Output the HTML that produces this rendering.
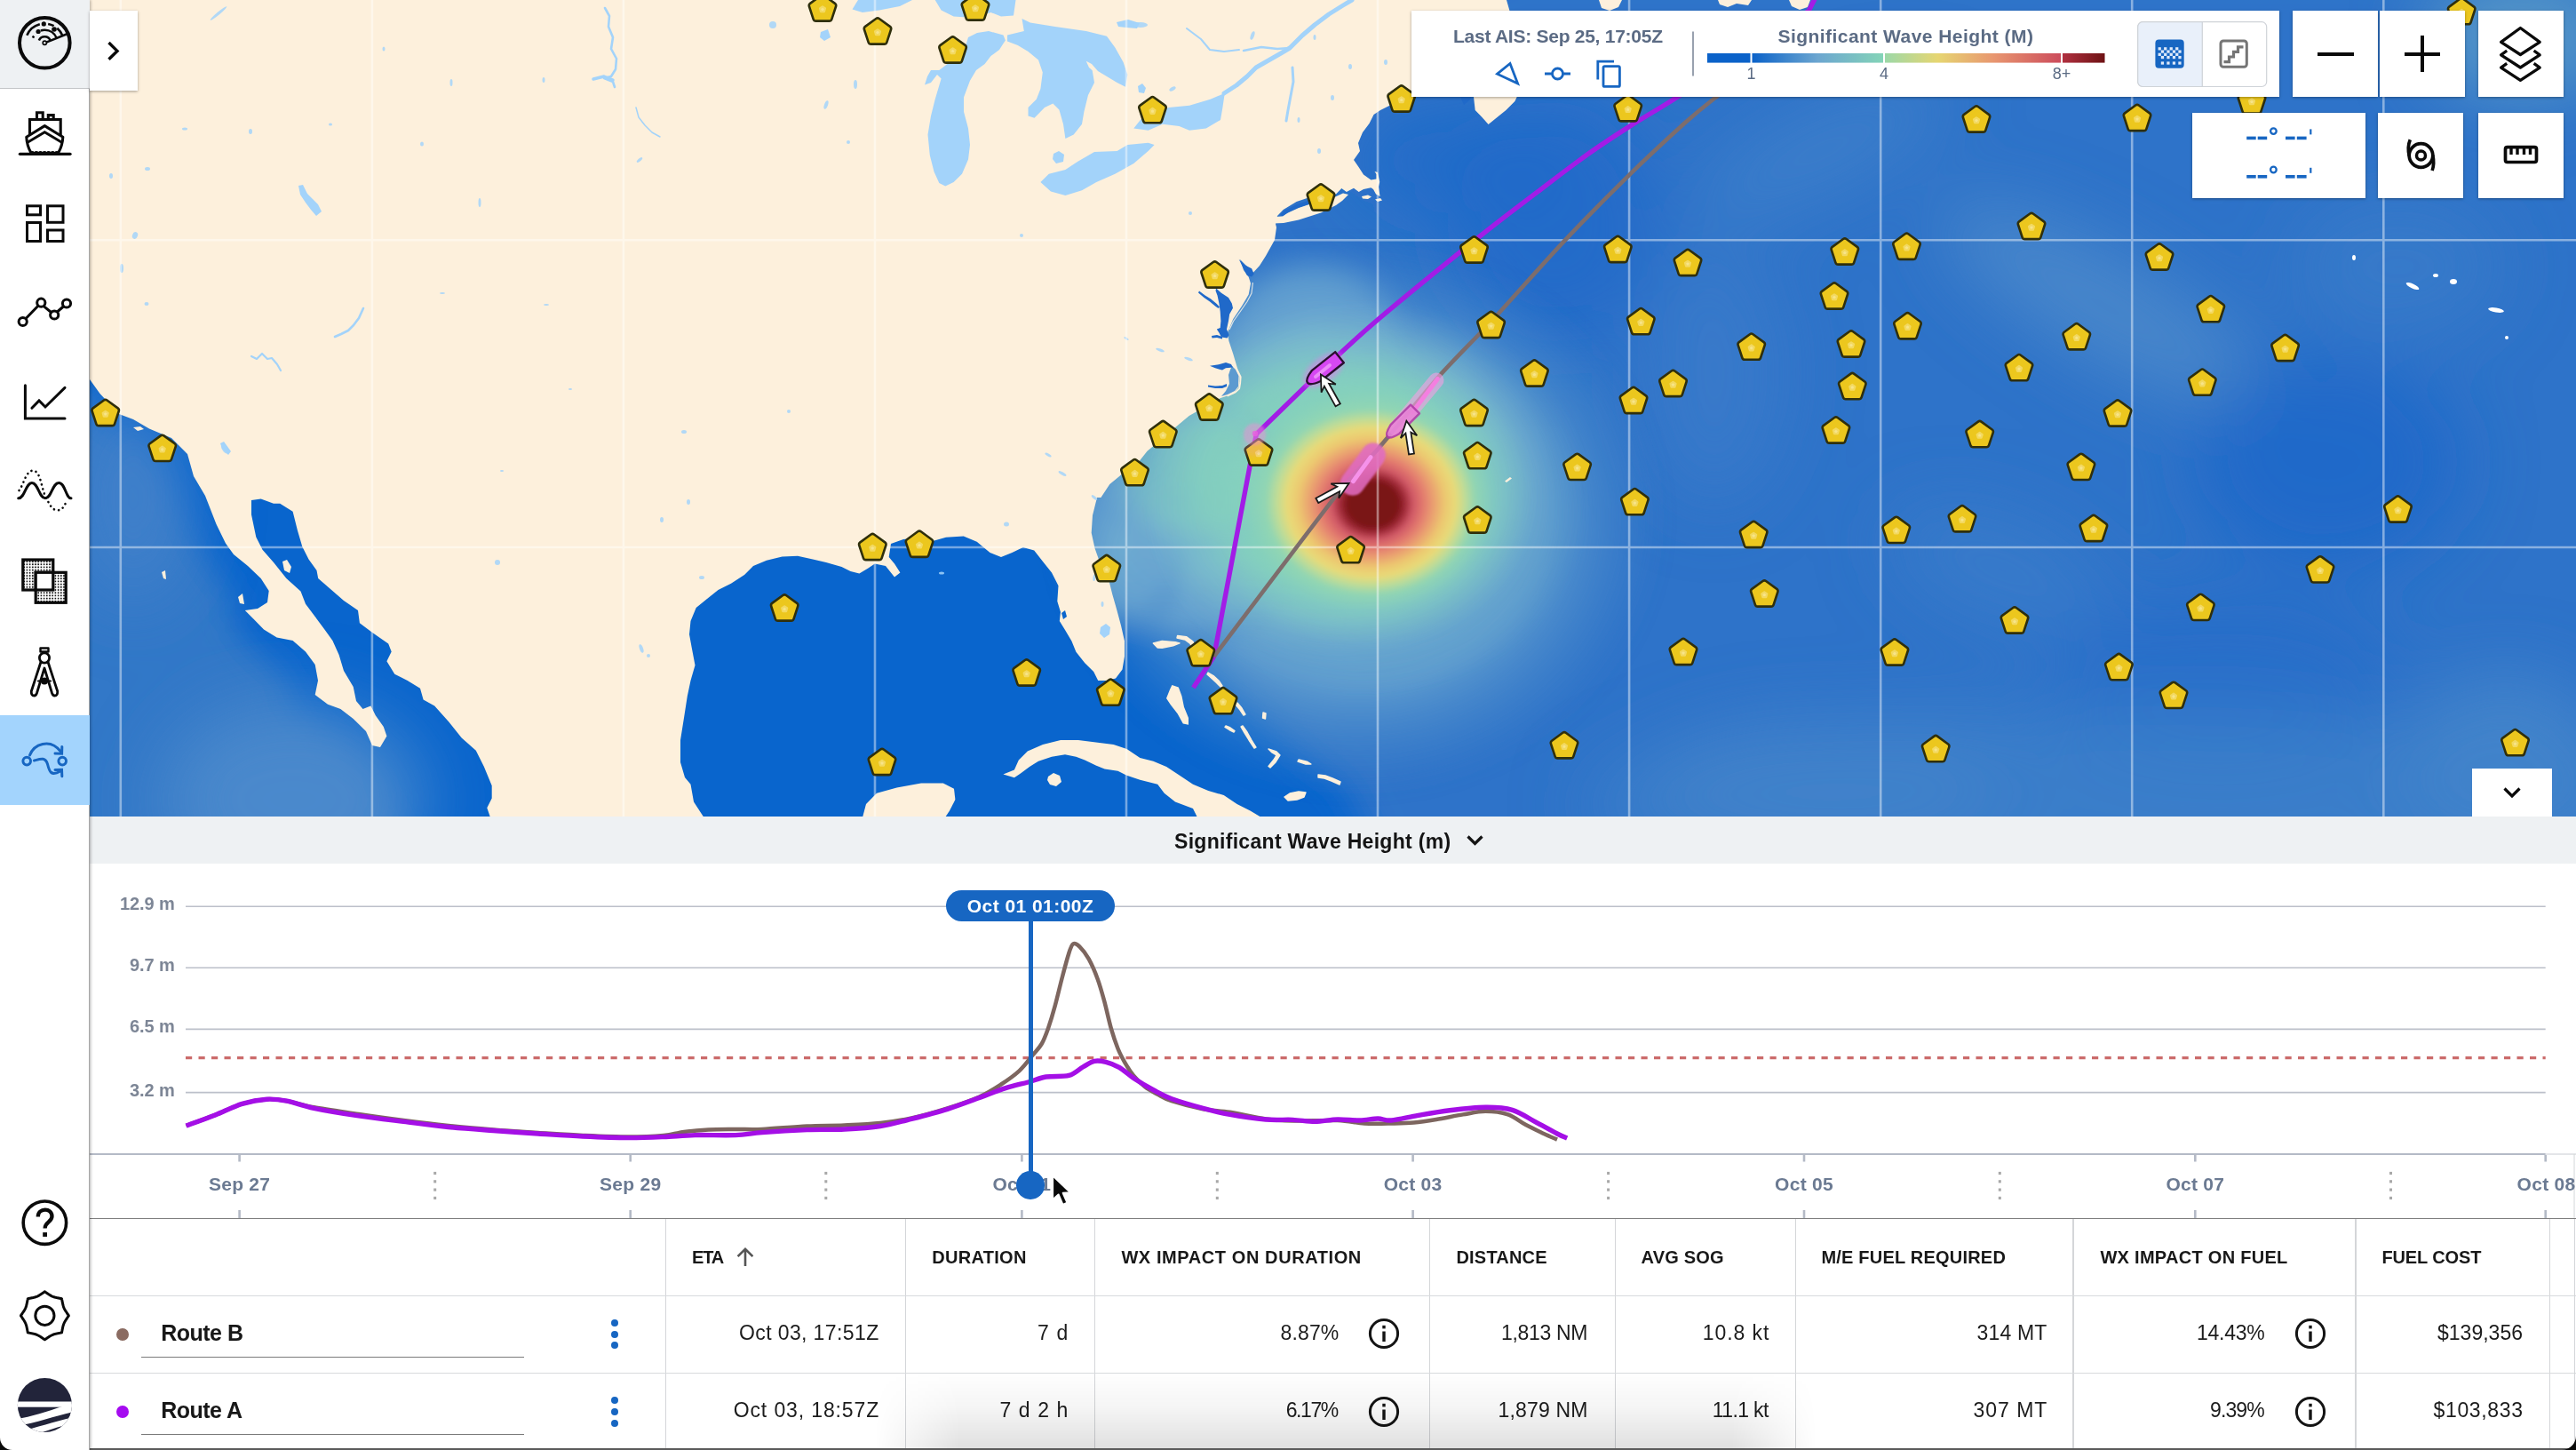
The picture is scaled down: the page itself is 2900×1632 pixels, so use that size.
<!DOCTYPE html>
<html><head><meta charset="utf-8"><title>Routing</title><style>
html,body{margin:0;padding:0}
body{width:2900px;height:1632px;position:relative;overflow:hidden;background:#fff;font-family:"Liberation Sans",sans-serif}
.t{position:absolute;line-height:1.15;white-space:nowrap}
#map{position:absolute;left:0;top:0;width:2900px;height:919px;overflow:hidden;background:#0965cd}
.card{position:absolute;background:#fff;box-shadow:0 1px 3px rgba(0,0,0,0.35)}
#side{position:absolute;left:0;top:0;width:100.4px;height:1632px;background:#fff;border-right:1.3px solid #a6a6a6;box-shadow:1px 0 3px rgba(0,0,0,0.3)}
#side .topcell{position:absolute;left:0;top:0;width:101px;height:98.5px;background:#eef1f3;border-bottom:1.3px solid #c4c6c8}
#side .active{position:absolute;left:0;top:805px;width:101px;height:100.8px;background:#a3d4fd}
#chart{position:absolute;left:0;top:919px;width:2900px;height:453px;background:#fff}
#chead{position:absolute;left:101px;top:0;width:2799px;height:53.2px;background:#eef1f3}
#table{position:absolute;left:0;top:1371.5px;width:2900px;height:261px;background:#fff}
</style></head><body>
<div id="map">
<svg id="mapsvg" width="2900" height="919" viewBox="0 0 2900 919" style="position:absolute;left:0;top:0">
<defs>
<filter id="b8" x="-20%" y="-20%" width="140%" height="140%"><feGaussianBlur stdDeviation="8"/></filter>
<filter id="b18" x="-20%" y="-20%" width="140%" height="140%"><feGaussianBlur stdDeviation="18"/></filter>
<filter id="b40" x="-30%" y="-30%" width="160%" height="160%"><feGaussianBlur stdDeviation="40"/></filter>
<filter id="b1" filterUnits="userSpaceOnUse" x="1100" y="200" width="900" height="700"><feGaussianBlur stdDeviation="1.1"/></filter>
<filter id="b3" filterUnits="userSpaceOnUse" x="1100" y="200" width="900" height="700"><feGaussianBlur stdDeviation="2.5"/></filter>
<radialGradient id="storm" cx="0.5" cy="0.5" r="0.5" fx="0.515" fy="0.517">
<stop offset="0" stop-color="#7a1214"/>
<stop offset="0.088" stop-color="#7a1214"/>
<stop offset="0.115" stop-color="#a02a38"/>
<stop offset="0.145" stop-color="#d05866"/>
<stop offset="0.18" stop-color="#e2786e"/>
<stop offset="0.22" stop-color="#eaa070"/>
<stop offset="0.262" stop-color="#ecc870"/>
<stop offset="0.30" stop-color="#e8da78"/>
<stop offset="0.335" stop-color="#c0dc96"/>
<stop offset="0.375" stop-color="#92d6b2" stop-opacity="0.95"/>
<stop offset="0.45" stop-color="#86d2bc" stop-opacity="0.55"/>
<stop offset="0.6" stop-color="#80c8c4" stop-opacity="0.15"/>
<stop offset="0.8" stop-color="#80c8c4" stop-opacity="0"/>
</radialGradient>
<radialGradient id="teal" cx="0.5" cy="0.5" r="0.5">
<stop offset="0" stop-color="#86d4ba"/>
<stop offset="0.55" stop-color="#84d0be" stop-opacity="0.95"/>
<stop offset="0.75" stop-color="#7cbccc" stop-opacity="0.7"/>
<stop offset="0.9" stop-color="#6ca6d0" stop-opacity="0.3"/>
<stop offset="1" stop-color="#5c98d0" stop-opacity="0"/>
</radialGradient>
<radialGradient id="halo" cx="0.5" cy="0.5" r="0.5">
<stop offset="0" stop-color="#74b0d0" stop-opacity="1"/>
<stop offset="0.6" stop-color="#68a4d0" stop-opacity="0.8"/>
<stop offset="0.85" stop-color="#4c8ccc" stop-opacity="0.35"/>
<stop offset="1" stop-color="#3a7cc9" stop-opacity="0"/>
</radialGradient>
</defs>
<rect width="2900" height="919" fill="#0965cd"/>
<g filter="url(#b18)">
<polygon points="1700.0,-40.0 2960.0,-40.0 2960.0,980.0 1560.0,980.0 1514.0,884.0 1470.0,852.0 1424.0,812.0 1380.0,767.0 1340.0,724.0 1300.0,702.0 1250.0,696.0 1200.0,600.0 1240.0,450.0 1350.0,300.0 1400.0,150.0 1520.0,60.0" fill="#2d73c9"/>
<polygon points="40.0,395.0 82.0,428.0 112.0,470.0 165.0,505.0 190.0,545.0 215.0,600.0 238.0,640.0 262.0,668.0 262.0,700.0 290.0,735.0 322.0,760.0 330.0,800.0 360.0,822.0 392.0,850.0 420.0,880.0 470.0,980.0 40.0,980.0" fill="#3178c8"/>
</g>
<g filter="url(#b40)">
<ellipse cx="330" cy="900" rx="150" ry="110" fill="#4e8bcc" opacity="0.9"/>
<ellipse cx="150" cy="560" rx="60" ry="120" fill="#4482cb" opacity="0.8"/>
<ellipse cx="2370" cy="345" rx="210" ry="60" fill="#4a88cb" opacity="0.9" transform="rotate(30 2370 345)"/>
<ellipse cx="2050" cy="170" rx="160" ry="50" fill="#3d7fca" opacity="0.8" transform="rotate(-25 2050 170)"/>
<ellipse cx="2050" cy="880" rx="200" ry="70" fill="#4887cb" opacity="0.8" transform="rotate(0 2050 880)"/>
<ellipse cx="2820" cy="860" rx="120" ry="100" fill="#4686cb" opacity="0.9" transform="rotate(0 2820 860)"/>
<ellipse cx="2840" cy="40" rx="110" ry="70" fill="#5a9ac8" opacity="0.9" transform="rotate(0 2840 40)"/>
<ellipse cx="2620" cy="520" rx="150" ry="120" fill="#1c68c9" opacity="0.9" transform="rotate(0 2620 520)"/>
<ellipse cx="2500" cy="760" rx="200" ry="90" fill="#246dc9" opacity="0.8" transform="rotate(0 2500 760)"/>
<ellipse cx="1750" cy="250" rx="120" ry="140" fill="#2169c9" opacity="0.8" transform="rotate(0 1750 250)"/>
<ellipse cx="2250" cy="640" rx="130" ry="60" fill="#3c7ecb" opacity="0.7" transform="rotate(20 2250 640)"/>
<ellipse cx="1930" cy="420" rx="80" ry="150" fill="#3a7cca" opacity="0.7" transform="rotate(0 1930 420)"/>
<ellipse cx="2400" cy="905" rx="620" ry="110" fill="#3f81cb" opacity="0.7" transform="rotate(0 2400 905)"/>
<ellipse cx="2700" cy="300" rx="120" ry="80" fill="#3d7fca" opacity="0.6" transform="rotate(0 2700 300)"/>
<ellipse cx="1640" cy="180" rx="120" ry="60" fill="#1f69c9" opacity="0.7" transform="rotate(0 1640 180)"/>
</g>
<g filter="url(#b8)">
<ellipse cx="1528" cy="583" rx="350" ry="315" fill="url(#halo)"/>
<ellipse cx="1330" cy="640" rx="130" ry="100" fill="url(#halo)" opacity="0.8"/>
<ellipse cx="1265" cy="610" rx="80" ry="115" fill="url(#halo)" opacity="0.85"/>
<ellipse cx="1480" cy="370" rx="120" ry="100" fill="url(#halo)" opacity="0.7"/>
<ellipse cx="1470" cy="395" rx="150" ry="120" fill="url(#halo)" opacity="0.55"/>
<ellipse cx="1500" cy="540" rx="258" ry="210" fill="url(#teal)"/>
<ellipse cx="1345" cy="535" rx="120" ry="95" fill="url(#teal)" opacity="0.4"/>
</g>
<g filter="url(#b3)">
<ellipse cx="1537" cy="559" rx="316" ry="279" fill="url(#storm)"/>
</g>
<path d="M101.0 0.0 L1696.0 0.0 L1700.0 14.0 L1650.0 60.0 L1600.0 105.0 L1564.0 119.0 L1554.0 124.0 L1546.5 129.0 L1541.5 139.0 L1534.0 149.0 L1529.0 161.0 L1531.0 170.0 L1524.0 180.0 L1529.7 188.3 L1535.0 196.6 L1543.4 202.5 L1549.5 201.5 L1549.5 196.0 L1547.5 193.0 L1551.0 194.0 L1553.2 204.8 L1552.0 210.3 L1553.5 221.0 L1549.0 218.6 L1546.0 213.0 L1543.4 211.2 L1535.0 213.0 L1529.7 215.9 L1524.0 211.7 L1515.9 215.9 L1510.3 212.0 L1504.0 218.5 L1474.5 222.0 L1459.6 227.0 L1444.7 236.0 L1438.0 243.0 L1436.0 252.0 L1437.0 256.0 L1435.0 270.0 L1425.0 288.0 L1418.0 299.0 L1410.7 307.0 L1403.0 299.0 L1396.0 292.0 L1400.0 304.0 L1405.7 311.7 L1408.0 319.0 L1405.7 331.6 L1398.3 344.0 L1388.3 359.0 L1382.0 374.0 L1383.4 383.7 L1388.3 398.6 L1392.0 411.0 L1395.8 423.4 L1394.5 435.8 L1388.3 443.3 L1373.4 448.3 L1356.0 458.2 L1338.7 468.0 L1323.8 480.5 L1306.4 495.4 L1291.5 507.8 L1281.6 520.3 L1264.2 532.7 L1249.3 545.0 L1239.4 560.0 L1235.0 560.0 L1230.0 580.0 L1228.7 599.7 L1232.5 617.0 L1238.7 634.5 L1248.6 654.3 L1252.3 669.0 L1257.3 686.6 L1262.0 704.0 L1266.0 721.4 L1266.0 738.7 L1263.5 753.6 L1256.0 763.6 L1246.0 766.0 L1236.2 766.0 L1231.2 756.0 L1221.3 746.2 L1211.4 733.8 L1206.4 721.4 L1199.0 709.0 L1192.8 699.0 L1194.0 689.0 L1190.3 676.7 L1191.5 659.3 L1184.0 644.4 L1174.0 632.0 L1164.2 619.6 L1151.8 615.9 L1139.4 622.0 L1127.0 627.0 L1114.5 622.0 L1099.7 609.7 L1084.8 603.4 L1065.0 604.7 L1050.0 609.0 L1037.0 604.7 L1017.0 607.0 L1003.0 612.0 L1000.7 627.0 L1007.0 634.5 L1013.4 644.4 L1007.0 649.4 L997.0 637.0 L984.8 634.5 L977.4 639.4 L967.4 645.6 L957.5 643.0 L947.5 638.0 L930.0 633.0 L915.0 629.5 L898.0 625.8 L880.5 626.5 L863.0 630.7 L848.0 637.0 L838.0 647.0 L823.0 656.8 L808.5 664.0 L796.0 674.0 L783.7 684.0 L777.5 699.0 L776.0 714.0 L778.7 728.8 L782.5 748.7 L777.5 766.0 L773.8 783.4 L770.0 808.0 L766.0 833.0 L766.0 858.0 L771.0 875.0 L777.5 882.7 L781.0 902.6 L792.4 920.0 L552.0 920.0 L548.3 909.3 L553.7 898.6 L553.7 884.2 L544.8 862.7 L535.8 844.8 L519.7 830.4 L505.3 812.5 L489.2 794.5 L476.6 787.4 L473.0 774.8 L458.7 765.9 L444.3 758.7 L435.4 744.3 L440.7 733.6 L437.2 724.6 L419.2 712.0 L404.9 701.3 L403.0 687.0 L387.0 676.0 L372.6 663.6 L358.2 651.0 L356.5 642.0 L347.5 629.6 L340.3 615.2 L335.0 597.3 L329.6 575.8 L315.2 566.8 L308.0 566.8 L293.7 561.4 L283.0 563.0 L283.0 579.3 L288.3 604.4 L295.5 618.8 L308.0 633.0 L322.4 651.0 L338.5 665.4 L344.0 679.8 L354.7 694.0 L365.4 708.5 L374.4 721.0 L381.6 737.0 L387.0 755.0 L397.7 773.0 L401.0 789.0 L408.5 798.0 L417.4 794.5 L422.8 805.3 L431.8 817.9 L435.4 828.6 L428.0 841.0 L419.0 839.0 L412.0 823.0 L397.7 809.0 L383.4 798.0 L369.0 792.8 L354.7 782.0 L358.0 766.0 L354.7 748.0 L344.0 733.6 L329.6 721.0 L311.6 717.4 L297.0 708.5 L286.5 697.7 L275.8 687.0 L290.0 685.0 L301.0 678.0 L302.7 665.0 L293.7 651.0 L279.0 637.0 L263.0 624.0 L254.0 611.6 L243.5 590.0 L231.0 558.0 L218.0 536.0 L211.0 511.0 L193.0 493.0 L168.0 482.5 L150.0 472.0 L134.0 466.0 L112.5 443.0 L101.0 427.0Z" fill="#fdf0dc"/>
<path d="M971.0 920.0 L975.0 905.0 L987.0 892.7 L1009.6 886.5 L1037.0 881.5 L1061.8 881.5 L1074.0 887.7 L1075.4 900.0 L1069.0 912.5 L1064.0 920.0Z" fill="#fdf0dc" stroke="#fdf0dc" stroke-width="0" stroke-linejoin="round"/>
<path d="M1129.4 871.6 L1141.9 866.6 L1146.8 855.4 L1156.8 845.5 L1174.0 838.0 L1194.0 833.0 L1213.9 833.0 L1233.7 835.6 L1253.6 838.0 L1268.5 843.0 L1283.4 853.0 L1298.3 856.7 L1313.2 862.9 L1328.0 872.8 L1343.0 882.7 L1360.3 890.0 L1377.7 895.0 L1392.6 905.0 L1407.5 912.5 L1420.0 920.0 L1348.0 920.0 L1343.0 910.0 L1323.0 902.6 L1310.7 892.7 L1303.2 882.7 L1283.4 877.8 L1268.5 872.8 L1258.5 867.8 L1243.6 865.4 L1233.7 861.6 L1221.3 855.4 L1211.4 851.7 L1199.0 849.2 L1184.0 851.7 L1169.0 856.7 L1159.0 862.9 L1149.3 870.3 L1141.9 875.3Z" fill="#fdf0dc" stroke="#fdf0dc" stroke-width="0" stroke-linejoin="round"/>
<path d="M1180.0 874.0 L1186.0 870.0 L1193.0 873.0 L1195.0 880.0 L1189.0 885.0 L1182.0 883.0 L1179.0 878.0Z" fill="#fdf0dc" stroke="#fdf0dc" stroke-width="0" stroke-linejoin="round"/>
<path d="M1319.4 771.0 L1326.8 773.5 L1330.5 783.4 L1333.0 795.8 L1338.0 808.0 L1338.0 815.7 L1331.8 814.5 L1325.6 803.3 L1318.0 793.4 L1313.0 786.0 L1317.0 776.0Z" fill="#fdf0dc" stroke="#fdf0dc" stroke-width="0" stroke-linejoin="round"/>
<path d="M1298.3 723.9 L1308.2 721.4 L1323.0 722.6 L1328.0 723.9 L1320.6 726.8 L1308.2 729.3 L1303.2 729.0Z" fill="#fdf0dc" stroke="#fdf0dc" stroke-width="1.4" stroke-linejoin="round"/>
<path d="M1325.6 715.4 L1335.5 716.6 L1343.0 722.0 L1346.0 730.0 L1343.0 731.0 L1340.0 724.5 L1334.0 720.0 L1325.0 718.0Z" fill="#fdf0dc" stroke="#fdf0dc" stroke-width="1.4" stroke-linejoin="round"/>
<path d="M1360.0 757.0 L1366.0 760.5 L1372.0 766.0 L1376.0 772.0 L1374.0 773.0 L1369.0 768.0 L1363.0 762.5 L1359.0 759.0Z" fill="#fdf0dc" stroke="#fdf0dc" stroke-width="1.4" stroke-linejoin="round"/>
<path d="M1393.0 791.0 L1398.0 797.0 L1402.0 804.0 L1400.0 805.0 L1396.0 799.0 L1391.0 793.0Z" fill="#fdf0dc" stroke="#fdf0dc" stroke-width="1.4" stroke-linejoin="round"/>
<path d="M1380.0 817.0 L1385.0 819.0 L1390.0 822.5 L1389.0 824.0 L1384.0 821.5 L1379.0 818.5Z" fill="#fdf0dc" stroke="#fdf0dc" stroke-width="1.4" stroke-linejoin="round"/>
<path d="M1399.0 817.0 L1404.0 824.0 L1409.0 833.0 L1414.0 841.0 L1412.0 842.0 L1406.0 833.0 L1401.0 825.0 L1397.0 818.0Z" fill="#fdf0dc" stroke="#fdf0dc" stroke-width="1.4" stroke-linejoin="round"/>
<path d="M1422.0 802.0 L1425.0 803.0 L1424.5 809.0 L1421.5 808.0Z" fill="#fdf0dc" stroke="#fdf0dc" stroke-width="1.4" stroke-linejoin="round"/>
<path d="M1428.0 843.0 L1437.0 846.0 L1441.0 850.0 L1436.0 858.0 L1430.0 864.0 L1428.0 862.5 L1434.0 855.0 L1437.0 850.0 L1432.0 847.0Z" fill="#fdf0dc" stroke="#fdf0dc" stroke-width="1.4" stroke-linejoin="round"/>
<path d="M1462.0 855.0 L1472.0 857.5 L1476.0 860.0 L1470.0 860.0 L1461.0 857.0Z" fill="#fdf0dc" stroke="#fdf0dc" stroke-width="1.4" stroke-linejoin="round"/>
<path d="M1484.0 872.0 L1492.0 873.0 L1500.0 876.0 L1509.0 880.0 L1508.0 883.0 L1499.0 879.0 L1491.0 876.0 L1484.0 875.0Z" fill="#fdf0dc" stroke="#fdf0dc" stroke-width="1.4" stroke-linejoin="round"/>
<path d="M1446.0 897.0 L1452.0 893.0 L1462.0 891.0 L1470.0 892.0 L1468.0 897.0 L1460.0 900.0 L1450.0 901.0Z" fill="#fdf0dc" stroke="#fdf0dc" stroke-width="1.4" stroke-linejoin="round"/>
<path d="M1658.0 100.0 L1660.7 124.0 L1668.0 131.6 L1675.6 140.0 L1683.0 134.0 L1695.4 124.0 L1705.4 114.0 L1712.0 100.0Z" fill="#fdf0dc" stroke="#fdf0dc" stroke-width="0" stroke-linejoin="round"/>
<path d="M1433.0 251.5 L1436.0 244.0 L1443.0 243.5 L1450.0 239.5 L1462.0 234.0 L1480.0 228.0 L1500.0 223.0 L1512.0 217.5 L1518.0 219.0 L1511.0 226.0 L1504.0 231.0 L1487.0 239.5 L1462.0 247.5 L1445.0 251.0Z" fill="#fdf0dc" stroke="#fdf0dc" stroke-width="0" stroke-linejoin="round"/>
<path d="M1533.0 221.0 L1540.0 219.5 L1544.0 221.5 L1540.0 224.0 L1534.0 223.5Z" fill="#fdf0dc" stroke="#fdf0dc" stroke-width="0" stroke-linejoin="round"/>
<path d="M1548.0 224.5 L1554.0 223.0 L1556.0 225.5 L1551.0 227.0Z" fill="#fdf0dc" stroke="#fdf0dc" stroke-width="0" stroke-linejoin="round"/>
<path d="M1800.0 0.0 L1826.0 0.0 L1822.0 8.0 L1812.0 12.0 L1803.0 9.0Z" fill="#fdf0dc" stroke="#fdf0dc" stroke-width="0" stroke-linejoin="round"/>
<path d="M1934.0 0.0 L1972.0 0.0 L1968.0 6.0 L1955.0 4.0 L1945.0 8.0 L1936.0 5.0Z" fill="#fdf0dc" stroke="#fdf0dc" stroke-width="0" stroke-linejoin="round"/>
<path d="M2014.0 0.0 L2038.0 0.0 L2035.0 8.0 L2026.0 11.0 L2017.0 7.0Z" fill="#fdf0dc" stroke="#fdf0dc" stroke-width="0" stroke-linejoin="round"/>
<path d="M150.0 481.0 L158.0 480.0 L162.0 483.0 L155.0 485.0Z" fill="#fdf0dc" stroke="#fdf0dc" stroke-width="0" stroke-linejoin="round"/>
<path d="M182.0 644.0 L186.0 642.0 L187.0 652.0 L184.0 651.0Z" fill="#fdf0dc" stroke="#fdf0dc" stroke-width="0" stroke-linejoin="round"/>
<path d="M268.0 672.0 L273.0 668.0 L275.0 680.0 L270.0 679.0Z" fill="#fdf0dc" stroke="#fdf0dc" stroke-width="0" stroke-linejoin="round"/>
<path d="M318.0 632.0 L323.0 630.0 L328.0 638.0 L326.0 645.0 L320.0 642.0Z" fill="#fdf0dc" stroke="#fdf0dc" stroke-width="0" stroke-linejoin="round"/>
<path d="M1694.0 541.5 L1700.0 537.0 L1702.0 538.5 L1696.0 543.0Z" fill="#fdf0dc" stroke="#fdf0dc" stroke-width="0" stroke-linejoin="round"/>
<path d="M959.5 10.5 L966.0 0.0 L1027.0 0.0 L1013.0 7.0 L989.8 11.6 L971.0 14.0Z" fill="#a3d3fa"/>
<path d="M1052.7 0.0 L1059.6 11.6 L1073.6 18.6 L1095.0 20.0 L1115.5 14.0 L1127.0 18.6 L1141.0 17.5 L1143.5 0.0Z" fill="#a3d3fa"/>
<path d="M1113.0 35.0 L1129.5 39.6 L1131.9 45.4 L1129.5 49.0 L1125.0 56.0 L1115.5 63.0 L1108.6 72.0 L1099.0 79.0 L1092.0 90.8 L1085.0 109.5 L1085.0 125.8 L1090.0 144.4 L1092.0 163.0 L1090.0 179.4 L1083.0 195.7 L1073.6 205.0 L1064.3 209.6 L1057.3 206.0 L1051.5 193.3 L1046.8 174.7 L1044.5 151.4 L1048.0 130.4 L1052.7 111.8 L1059.6 88.5 L1055.0 83.9 L1048.0 93.0 L1041.0 95.5 L1044.0 86.0 L1048.0 79.0 L1057.3 79.0 L1066.6 72.0 L1083.0 65.0 L1090.0 42.0 L1100.0 37.0Z" fill="#a3d3fa"/>
<path d="M1134.0 39.6 L1152.8 35.0 L1150.5 21.0 L1159.8 25.6 L1187.8 30.0 L1222.7 35.0 L1246.0 40.8 L1255.3 53.6 L1264.6 70.0 L1269.3 83.9 L1267.0 97.8 L1257.6 93.0 L1246.0 86.0 L1236.0 80.0 L1229.0 72.0 L1222.7 68.7 L1226.0 76.0 L1229.7 79.2 L1232.0 93.0 L1225.0 107.0 L1220.4 125.8 L1218.0 139.8 L1208.7 151.4 L1199.4 156.0 L1197.0 139.8 L1192.4 123.5 L1185.4 116.5 L1176.0 121.0 L1164.5 132.8 L1157.5 130.4 L1157.5 121.0 L1166.8 111.8 L1171.4 100.0 L1173.8 81.5 L1169.0 67.5 L1157.5 58.0 L1145.8 51.0 L1134.0 46.6Z" fill="#a3d3fa"/>
<path d="M1171.4 205.0 L1180.8 195.7 L1199.4 191.0 L1213.4 181.7 L1232.0 171.0 L1257.6 170.0 L1269.3 163.0 L1292.6 160.7 L1299.6 163.0 L1292.6 170.0 L1276.3 184.0 L1255.3 195.7 L1234.3 205.0 L1218.0 214.3 L1199.4 220.0 L1183.0 215.5Z" fill="#a3d3fa"/>
<path d="M1186.0 173.0 L1192.0 170.0 L1198.0 174.0 L1197.0 182.0 L1189.0 184.0 L1185.0 179.0Z" fill="#a3d3fa"/>
<path d="M1276.3 144.4 L1285.6 132.8 L1300.0 126.0 L1315.9 121.0 L1339.0 118.8 L1362.5 111.8 L1378.8 104.8 L1376.4 121.0 L1374.0 135.0 L1357.8 144.4 L1339.0 146.7 L1327.5 142.0 L1308.9 139.8 L1292.6 146.7Z" fill="#a3d3fa"/>
<path d="M1281.0 97.0 L1286.0 94.0 L1290.0 99.0 L1288.0 105.0 L1282.0 104.0Z" fill="#a3d3fa"/>
<path d="M1257.0 25.0 L1270.0 22.0 L1283.0 26.0 L1280.0 32.0 L1268.0 31.0 L1259.0 30.0Z" fill="#a3d3fa"/>
<path d="M1239.0 706.0 L1245.0 702.0 L1250.0 706.0 L1249.0 714.0 L1243.0 718.0 L1238.0 713.0Z" fill="#a3d3fa"/>
<path d="M248.0 499.0 L252.0 497.0 L260.0 508.0 L257.0 512.0 L250.0 505.0Z" fill="#a3d3fa"/>
<path d="M336.0 209.0 L341.0 208.0 L346.0 218.0 L352.0 224.0 L358.0 230.0 L362.0 238.0 L356.0 243.0 L350.0 236.0 L344.0 228.0 L338.0 219.0Z" fill="#a3d3fa"/>
<path d="M924.0 36.0 L932.0 33.0 L935.0 42.0 L928.0 46.0 L923.0 42.0Z" fill="#a3d3fa"/>
<path d="M1369.1 324.6 L1375.0 329.8 L1383.0 335.0 L1386.8 341.6 L1388.0 346.8 L1384.2 353.4 L1383.0 361.3 L1381.0 370.4 L1383.6 377.0 L1381.6 380.5 L1375.0 379.6 L1372.4 374.4 L1369.8 370.4 L1373.7 369.0 L1374.4 361.3 L1373.7 350.8 L1372.4 341.6 L1370.5 332.4 L1368.5 327.2Z" fill="#2069c9"/>
<path d="M1350.0 327.5 L1356.7 332.5 L1363.2 336.6 L1369.8 342.0 L1373.0 345.5 L1371.5 347.0 L1368.0 344.5 L1362.0 339.5 L1355.5 335.0 L1349.0 329.5Z" fill="#2069c9"/>
<path d="M1364.0 378.0 L1370.0 377.0 L1376.0 379.0 L1376.0 381.5 L1370.0 380.0 L1364.5 380.5Z" fill="#2069c9"/>
<path d="M1387.0 412.0 L1391.0 416.0 L1394.5 423.0 L1394.0 435.0 L1390.0 440.0 L1382.0 444.0 L1375.0 446.0 L1380.0 440.0 L1384.0 432.0 L1383.0 422.0 L1385.0 416.0Z" fill="#5c9ad0"/>
<path d="M1362.0 411.8 L1372.0 410.3 L1380.0 408.0 L1386.0 410.0 L1388.0 413.5 L1380.0 414.2 L1376.0 416.5 L1368.0 414.3Z" fill="#2069c9"/>
<path d="M1360.0 433.5 L1368.0 434.5 L1376.0 434.0 L1381.0 432.0 L1381.0 435.0 L1376.0 437.0 L1368.0 437.0 L1360.0 435.5Z" fill="#2069c9"/>
<path d="M1394.7 291.8 L1401.3 298.3 L1409.1 302.3 L1411.7 308.2 L1409.1 311.5 L1403.9 310.1 L1400.0 302.3 L1396.7 295.7Z" fill="#2069c9"/>
<path d="M1441.0 242.0 L1446.0 237.0 L1460.0 230.0 L1476.0 225.0 L1500.0 221.0 L1510.0 216.0 L1504.0 219.5 L1480.0 227.5 L1462.0 233.5 L1450.0 239.0 L1444.0 243.5Z" fill="#2069c9"/>
<path d="M1195.0 690.0 L1199.0 687.0 L1201.0 694.0 L1197.0 697.0Z" fill="#0965cd"/>
<path d="M1640.0 100.0 L1660.0 100.0 L1655.0 112.0 L1648.0 118.0Z" fill="#2069c9"/>
<path d="M1389.5 411 L1393.4 417.6 L1396.7 424.2 L1396.2 431 L1395.2 437.3 L1390.8 441.4 L1381.6 445.8" fill="none" stroke="#fdf0dc" stroke-width="1.8" stroke-linejoin="round"/>
<path d="M1410.4 318 L1409 330 L1404 339.5 L1396 351 L1388.5 361.5 L1384 371" fill="none" stroke="#fff8ea" stroke-width="1.2" stroke-linejoin="round" opacity="0.8"/>
<path d="M681.0 9.0 L686.0 18.0 L685.0 30.0 L690.0 42.0 L688.0 55.0 L694.0 66.0 L693.0 78.0 L688.0 86.0 L680.0 88.0 L690.0 92.0 L692.0 98.0" fill="none" stroke="#a3d3fa" stroke-width="2.6" stroke-linecap="round" stroke-linejoin="round"/>
<path d="M668.0 89.0 L680.0 86.0 L690.0 90.0" fill="none" stroke="#a3d3fa" stroke-width="3.5" stroke-linecap="round" stroke-linejoin="round"/>
<path d="M409.0 347.0 L404.0 358.0 L398.0 366.0 L392.0 372.0 L384.0 376.0 L377.0 379.0" fill="none" stroke="#a3d3fa" stroke-width="2.6" stroke-linecap="round" stroke-linejoin="round"/>
<path d="M283.0 401.0 L289.0 404.0 L295.0 398.0 L301.0 404.0 L306.0 403.0 L312.0 410.0 L316.0 417.0" fill="none" stroke="#a3d3fa" stroke-width="2.2" stroke-linecap="round" stroke-linejoin="round"/>
<path d="M716.0 121.0 L719.0 132.0 L726.0 141.0 L734.0 149.0 L743.0 154.0" fill="none" stroke="#a3d3fa" stroke-width="1.5" stroke-linecap="round" stroke-linejoin="round"/>
<path d="M1378.0 105.0 L1392.0 96.0 L1404.0 86.0 L1414.0 76.0 L1428.0 68.0 L1442.0 60.0 L1452.0 54.0 L1466.0 40.0 L1480.0 28.0 L1496.0 16.0 L1512.0 6.0 L1522.0 0.0" fill="none" stroke="#a3d3fa" stroke-width="5" stroke-linecap="round" stroke-linejoin="round"/>
<path d="M1455.0 76.0 L1456.0 92.0 L1453.0 108.0 L1450.0 124.0 L1448.0 136.0" fill="none" stroke="#a3d3fa" stroke-width="3" stroke-linecap="round" stroke-linejoin="round"/>
<path d="M1400.0 57.0 L1420.0 53.0 L1438.0 55.0 L1452.0 54.0" fill="none" stroke="#a3d3fa" stroke-width="2.5" stroke-linecap="round" stroke-linejoin="round"/>
<path d="M1336.0 32.0 L1352.0 44.0 L1362.0 56.0 L1378.0 58.0 L1395.0 56.0" fill="none" stroke="#a3d3fa" stroke-width="2" stroke-linecap="round" stroke-linejoin="round"/>
<ellipse cx="246" cy="15" rx="12" ry="1.6" fill="#a3d3fa" opacity="0.85" transform="rotate(-40 246 15)"/>
<ellipse cx="166" cy="190" rx="3" ry="2" fill="#a3d3fa" opacity="0.85" transform="rotate(0 166 190)"/>
<ellipse cx="125" cy="198" rx="2" ry="3" fill="#a3d3fa" opacity="0.85" transform="rotate(0 125 198)"/>
<ellipse cx="152" cy="265" rx="3" ry="4" fill="#a3d3fa" opacity="0.85" transform="rotate(20 152 265)"/>
<ellipse cx="137" cy="302" rx="2" ry="5" fill="#a3d3fa" opacity="0.85" transform="rotate(0 137 302)"/>
<ellipse cx="165" cy="342" rx="2.5" ry="2" fill="#a3d3fa" opacity="0.85" transform="rotate(0 165 342)"/>
<ellipse cx="253" cy="505" rx="3" ry="6" fill="#a3d3fa" opacity="0.85" transform="rotate(-30 253 505)"/>
<ellipse cx="720" cy="180" rx="4" ry="1.5" fill="#a3d3fa" opacity="0.85" transform="rotate(-40 720 180)"/>
<ellipse cx="508" cy="93" rx="1.5" ry="4" fill="#a3d3fa" opacity="0.85" transform="rotate(0 508 93)"/>
<ellipse cx="540" cy="228" rx="1.5" ry="5" fill="#a3d3fa" opacity="0.85" transform="rotate(0 540 228)"/>
<ellipse cx="1060" cy="645" rx="3" ry="1.5" fill="#a3d3fa" opacity="0.85" transform="rotate(0 1060 645)"/>
<ellipse cx="722" cy="730" rx="2" ry="5" fill="#a3d3fa" opacity="0.85" transform="rotate(-20 722 730)"/>
<ellipse cx="730" cy="738" rx="2" ry="2" fill="#a3d3fa" opacity="0.85" transform="rotate(0 730 738)"/>
<ellipse cx="1133" cy="590" rx="3" ry="2.5" fill="#a3d3fa" opacity="0.85" transform="rotate(0 1133 590)"/>
<ellipse cx="1241" cy="680" rx="1.5" ry="3" fill="#a3d3fa" opacity="0.85" transform="rotate(0 1241 680)"/>
<ellipse cx="1232" cy="650" rx="1.5" ry="4" fill="#a3d3fa" opacity="0.85" transform="rotate(10 1232 650)"/>
<ellipse cx="963" cy="95" rx="2" ry="5" fill="#a3d3fa" opacity="0.85" transform="rotate(0 963 95)"/>
<ellipse cx="930" cy="118" rx="2" ry="5" fill="#a3d3fa" opacity="0.85" transform="rotate(20 930 118)"/>
<ellipse cx="870" cy="28" rx="4" ry="4" fill="#a3d3fa" opacity="0.85" transform="rotate(0 870 28)"/>
<ellipse cx="1284" cy="28" rx="8" ry="3" fill="#a3d3fa" opacity="0.85" transform="rotate(0 1284 28)"/>
<ellipse cx="1320" cy="100" rx="4" ry="2" fill="#a3d3fa" opacity="0.85" transform="rotate(-30 1320 100)"/>
<ellipse cx="1410" cy="40" rx="2" ry="5" fill="#a3d3fa" opacity="0.85" transform="rotate(20 1410 40)"/>
<ellipse cx="1480" cy="42" rx="1.5" ry="3" fill="#a3d3fa" opacity="0.85" transform="rotate(0 1480 42)"/>
<ellipse cx="1338" cy="404" rx="5" ry="1.5" fill="#a3d3fa" opacity="0.85" transform="rotate(20 1338 404)"/>
<ellipse cx="1306" cy="394" rx="5" ry="1.5" fill="#a3d3fa" opacity="0.85" transform="rotate(20 1306 394)"/>
<ellipse cx="1196" cy="533" rx="5" ry="1.6" fill="#a3d3fa" opacity="0.85" transform="rotate(30 1196 533)"/>
<ellipse cx="1232" cy="560" rx="4" ry="1.5" fill="#a3d3fa" opacity="0.85" transform="rotate(40 1232 560)"/>
<ellipse cx="1180" cy="512" rx="4" ry="1.5" fill="#a3d3fa" opacity="0.85" transform="rotate(30 1180 512)"/>
<ellipse cx="1268" cy="381" rx="3" ry="1.2" fill="#a3d3fa" opacity="0.85" transform="rotate(30 1268 381)"/>
<ellipse cx="282" cy="148" rx="2" ry="3" fill="#a3d3fa" opacity="0.85" transform="rotate(0 282 148)"/>
<ellipse cx="208" cy="145" rx="3" ry="1.5" fill="#a3d3fa" opacity="0.85" transform="rotate(0 208 145)"/>
<ellipse cx="475" cy="162" rx="2" ry="2.5" fill="#a3d3fa" opacity="0.85" transform="rotate(0 475 162)"/>
<ellipse cx="372" cy="140" rx="2" ry="1.5" fill="#a3d3fa" opacity="0.85" transform="rotate(0 372 140)"/>
<ellipse cx="612" cy="90" rx="1.5" ry="3" fill="#a3d3fa" opacity="0.85" transform="rotate(0 612 90)"/>
<ellipse cx="432" cy="55" rx="1.5" ry="2.5" fill="#a3d3fa" opacity="0.85" transform="rotate(0 432 55)"/>
<ellipse cx="565" cy="530" rx="2" ry="1" fill="#a3d3fa" opacity="0.85" transform="rotate(0 565 530)"/>
<ellipse cx="498" cy="330" rx="3" ry="1" fill="#a3d3fa" opacity="0.85" transform="rotate(0 498 330)"/>
<ellipse cx="615" cy="343" rx="3" ry="1" fill="#a3d3fa" opacity="0.85" transform="rotate(0 615 343)"/>
<ellipse cx="642" cy="438" rx="2" ry="1" fill="#a3d3fa" opacity="0.85" transform="rotate(0 642 438)"/>
<ellipse cx="770" cy="486" rx="3" ry="2" fill="#a3d3fa" opacity="0.85" transform="rotate(0 770 486)"/>
<ellipse cx="775" cy="565" rx="2" ry="3" fill="#a3d3fa" opacity="0.85" transform="rotate(0 775 565)"/>
<ellipse cx="790" cy="650" rx="3" ry="2" fill="#a3d3fa" opacity="0.85" transform="rotate(0 790 650)"/>
<ellipse cx="560" cy="633" rx="3" ry="3" fill="#a3d3fa" opacity="0.85" transform="rotate(0 560 633)"/>
<ellipse cx="745" cy="585" rx="2" ry="3" fill="#a3d3fa" opacity="0.85" transform="rotate(0 745 585)"/>
<ellipse cx="888" cy="463" rx="2" ry="2" fill="#a3d3fa" opacity="0.85" transform="rotate(0 888 463)"/>
<ellipse cx="1000" cy="30" rx="2" ry="2" fill="#a3d3fa" opacity="0.85" transform="rotate(0 1000 30)"/>
<ellipse cx="955" cy="160" rx="2" ry="2" fill="#a3d3fa" opacity="0.85" transform="rotate(0 955 160)"/>
<ellipse cx="1150" cy="265" rx="2" ry="2" fill="#a3d3fa" opacity="0.85" transform="rotate(0 1150 265)"/>
<ellipse cx="1340" cy="240" rx="2" ry="2" fill="#a3d3fa" opacity="0.85" transform="rotate(0 1340 240)"/>
<ellipse cx="1500" cy="110" rx="2" ry="3" fill="#a3d3fa" opacity="0.85" transform="rotate(0 1500 110)"/>
<ellipse cx="1520" cy="75" rx="2" ry="3" fill="#a3d3fa" opacity="0.85" transform="rotate(0 1520 75)"/>
<ellipse cx="1560" cy="70" rx="2" ry="3" fill="#a3d3fa" opacity="0.85" transform="rotate(0 1560 70)"/>
<ellipse cx="1485" cy="170" rx="2" ry="3" fill="#a3d3fa" opacity="0.85" transform="rotate(0 1485 170)"/>
<ellipse cx="1462" cy="135" rx="1.5" ry="3" fill="#a3d3fa" opacity="0.85" transform="rotate(0 1462 135)"/>
<ellipse cx="2650" cy="290" rx="2" ry="3" fill="#ffffff" transform="rotate(0 2650 290)"/>
<ellipse cx="2716" cy="322" rx="8" ry="2.5" fill="#ffffff" transform="rotate(25 2716 322)"/>
<ellipse cx="2742" cy="310" rx="3" ry="2" fill="#ffffff" transform="rotate(0 2742 310)"/>
<ellipse cx="2762" cy="317" rx="4" ry="3" fill="#ffffff" transform="rotate(0 2762 317)"/>
<ellipse cx="2810" cy="349" rx="9" ry="2.5" fill="#ffffff" transform="rotate(10 2810 349)"/>
<ellipse cx="2822" cy="380" rx="2" ry="2" fill="#ffffff" transform="rotate(0 2822 380)"/>
<path d="M135.8 0V919 M418.9 0V919 M701.9 0V919 M985.0 0V919 M1268.0 0V919 M1551.0 0V919 M1834.1 0V919 M2117.2 0V919 M2400.2 0V919 M2683.3 0V919 M101 270.3H2900 M101 616H2900" stroke="#ffffff" stroke-opacity="0.44" stroke-width="2.6" fill="none"/>
<path d="M1343.4 774.0 L1366.6 739.0 L1407.0 524.8 L1414.4 488.6" fill="none" stroke="#a21ce6" stroke-width="5.4" stroke-linejoin="round"/>
<path d="M1414.4 488.6 C1427.4 476.0 1467.7 436.5 1491.0 414.5 C1514.3 392.5 1522.2 384.4 1551.7 359.3 C1581.2 334.2 1634.3 291.3 1664.8 266.9 C1695.3 242.5 1710.4 231.6 1731.0 215.9 C1751.6 200.2 1768.4 187.2 1786.2 174.5 C1804.0 161.8 1819.0 152.2 1835.9 141.4 C1852.8 130.6 1864.4 124.5 1885.5 111.0 C1906.6 97.5 1934.4 78.7 1960.0 62.0 C1985.6 45.3 2023.1 20.9 2036.0 12.5 L2044.5 -4" fill="none" stroke="#a21ce6" stroke-width="5.4" stroke-linejoin="round"/>
<path d="M1366.6 739.0 C1382.9 717.5 1480.5 587.7 1502.7 559.6 C1524.9 531.5 1537.8 520.9 1552.0 504.5 C1566.2 488.1 1605.5 439.9 1620.7 422.8 C1635.9 405.7 1662.1 379.9 1678.6 362.0 C1695.1 344.1 1739.9 293.6 1758.6 273.8 C1777.3 254.0 1817.9 212.8 1834.5 196.6 C1851.1 180.4 1885.2 148.9 1896.6 138.6 C1908.0 128.3 1920.3 118.3 1929.7 111.0 C1939.1 103.7 1969.6 82.0 1975.0 78.0" fill="none" stroke="#7d6d6c" stroke-width="4.7" stroke-linejoin="round"/>
<g filter="url(#b1)">
<path d="M1522.6 544 L1546.2 512.2" stroke="#e06cc0" stroke-opacity="0.88" stroke-width="27.5" stroke-linecap="round" fill="none"/>
</g>
<path d="M1572 482 L1617 428" stroke="#f2a0e2" stroke-opacity="0.62" stroke-width="17" stroke-linecap="round" fill="none"/>
<path d="M1523.5 541.6 L1543 514.6" stroke="#f692ea" stroke-width="5" stroke-linecap="round" fill="none"/>
<path d="M1590 464 L1618.5 426.5" stroke="#f47fe0" stroke-width="5" stroke-linecap="round" fill="none"/>
<ellipse cx="1490" cy="416.5" rx="27" ry="14" transform="rotate(-38 1490 416.5)" fill="#e878f0" opacity="0.5" filter="url(#b3)"/>
<path d="M-23.0 -7.75 L10.35 -7.75 Q23.0 -4.6499999999999995 23.0 0 Q23.0 4.6499999999999995 10.35 7.75 L-23.0 7.75 Z" transform="translate(1490 416.5) rotate(141.6084643383168)" fill="#d648f2" stroke="#2a1030" stroke-width="2.4" stroke-linejoin="round" opacity="1"/>
<path d="M1481 424 L1497 411" stroke="#ea8cf8" stroke-width="4" stroke-linecap="round"/>
<path d="M-22.0 -7.0 L9.9 -7.0 Q22.0 -4.2 22.0 0 Q22.0 4.2 9.9 7.0 L-22.0 7.0 Z" transform="translate(1577.5 476) rotate(134.9056083563788)" fill="#e884d8" stroke="#b03ca8" stroke-width="2.4" stroke-linejoin="round" opacity="0.9"/>
<path d="M0 -3.0 L26.03150642209323 -3.0 L21.53150642209323 -9.3 L39.53150642209323 0 L21.53150642209323 9.3 L26.03150642209323 3.0 L0 3.0 Z" transform="translate(1506.2 455.9) rotate(-119.2)" fill="#ffffff" stroke="#1a1a1a" stroke-width="1.8" stroke-linejoin="miter"/>
<path d="M0 -3.0 L24.119144062564715 -3.0 L19.619144062564715 -9.3 L37.619144062564715 0 L19.619144062564715 9.3 L24.119144062564715 3.0 L0 3.0 Z" transform="translate(1589 511) rotate(-98.6)" fill="#ffffff" stroke="#1a1a1a" stroke-width="1.8" stroke-linejoin="miter"/>
<path d="M0 -3.0 L27.218546143004616 -3.0 L22.718546143004616 -9.3 L40.718546143004616 0 L22.718546143004616 9.3 L27.218546143004616 3.0 L0 3.0 Z" transform="translate(1482.8 563.4) rotate(-28.5)" fill="#ffffff" stroke="#1a1a1a" stroke-width="1.8" stroke-linejoin="miter"/>
<polygon points="926.0,-2.6 938.2,6.3 933.5,20.6 918.5,20.6 913.8,6.3" fill="#2f2f0c" stroke="#2f2f0c" stroke-width="8.6" stroke-linejoin="round"/><polygon points="926.0,-2.6 938.2,6.3 933.5,20.6 918.5,20.6 913.8,6.3" fill="#ecc71e" stroke="#ecc71e" stroke-width="3.4" stroke-linejoin="round"/><polygon points="926.0,7.3 929.0,9.5 927.9,13.1 924.1,13.1 923.0,9.5" fill="#f7e48a" stroke="#f3d960" stroke-width="2.2" stroke-linejoin="round"/>
<polygon points="988.0,23.4 1000.2,32.3 995.5,46.6 980.5,46.6 975.8,32.3" fill="#2f2f0c" stroke="#2f2f0c" stroke-width="8.6" stroke-linejoin="round"/><polygon points="988.0,23.4 1000.2,32.3 995.5,46.6 980.5,46.6 975.8,32.3" fill="#ecc71e" stroke="#ecc71e" stroke-width="3.4" stroke-linejoin="round"/><polygon points="988.0,33.3 991.0,35.5 989.9,39.1 986.1,39.1 985.0,35.5" fill="#f7e48a" stroke="#f3d960" stroke-width="2.2" stroke-linejoin="round"/>
<polygon points="1098.0,-3.6 1110.2,5.3 1105.5,19.6 1090.5,19.6 1085.8,5.3" fill="#2f2f0c" stroke="#2f2f0c" stroke-width="8.6" stroke-linejoin="round"/><polygon points="1098.0,-3.6 1110.2,5.3 1105.5,19.6 1090.5,19.6 1085.8,5.3" fill="#ecc71e" stroke="#ecc71e" stroke-width="3.4" stroke-linejoin="round"/><polygon points="1098.0,6.3 1101.0,8.5 1099.9,12.1 1096.1,12.1 1095.0,8.5" fill="#f7e48a" stroke="#f3d960" stroke-width="2.2" stroke-linejoin="round"/>
<polygon points="1072.6,44.4 1084.8,53.3 1080.1,67.6 1065.1,67.6 1060.4,53.3" fill="#2f2f0c" stroke="#2f2f0c" stroke-width="8.6" stroke-linejoin="round"/><polygon points="1072.6,44.4 1084.8,53.3 1080.1,67.6 1065.1,67.6 1060.4,53.3" fill="#ecc71e" stroke="#ecc71e" stroke-width="3.4" stroke-linejoin="round"/><polygon points="1072.6,54.3 1075.6,56.5 1074.5,60.1 1070.7,60.1 1069.6,56.5" fill="#f7e48a" stroke="#f3d960" stroke-width="2.2" stroke-linejoin="round"/>
<polygon points="1297.5,112.1 1309.7,121.0 1305.0,135.3 1290.0,135.3 1285.3,121.0" fill="#2f2f0c" stroke="#2f2f0c" stroke-width="8.6" stroke-linejoin="round"/><polygon points="1297.5,112.1 1309.7,121.0 1305.0,135.3 1290.0,135.3 1285.3,121.0" fill="#ecc71e" stroke="#ecc71e" stroke-width="3.4" stroke-linejoin="round"/><polygon points="1297.5,122.0 1300.5,124.2 1299.4,127.8 1295.6,127.8 1294.5,124.2" fill="#f7e48a" stroke="#f3d960" stroke-width="2.2" stroke-linejoin="round"/>
<polygon points="1577.7,99.4 1589.9,108.3 1585.2,122.6 1570.2,122.6 1565.5,108.3" fill="#2f2f0c" stroke="#2f2f0c" stroke-width="8.6" stroke-linejoin="round"/><polygon points="1577.7,99.4 1589.9,108.3 1585.2,122.6 1570.2,122.6 1565.5,108.3" fill="#ecc71e" stroke="#ecc71e" stroke-width="3.4" stroke-linejoin="round"/><polygon points="1577.7,109.3 1580.7,111.5 1579.6,115.1 1575.8,115.1 1574.7,111.5" fill="#f7e48a" stroke="#f3d960" stroke-width="2.2" stroke-linejoin="round"/>
<polygon points="1832.7,110.2 1844.9,119.1 1840.2,133.4 1825.2,133.4 1820.5,119.1" fill="#2f2f0c" stroke="#2f2f0c" stroke-width="8.6" stroke-linejoin="round"/><polygon points="1832.7,110.2 1844.9,119.1 1840.2,133.4 1825.2,133.4 1820.5,119.1" fill="#ecc71e" stroke="#ecc71e" stroke-width="3.4" stroke-linejoin="round"/><polygon points="1832.7,120.1 1835.7,122.3 1834.6,125.9 1830.8,125.9 1829.7,122.3" fill="#f7e48a" stroke="#f3d960" stroke-width="2.2" stroke-linejoin="round"/>
<polygon points="2225.0,122.4 2237.2,131.3 2232.5,145.6 2217.5,145.6 2212.8,131.3" fill="#2f2f0c" stroke="#2f2f0c" stroke-width="8.6" stroke-linejoin="round"/><polygon points="2225.0,122.4 2237.2,131.3 2232.5,145.6 2217.5,145.6 2212.8,131.3" fill="#ecc71e" stroke="#ecc71e" stroke-width="3.4" stroke-linejoin="round"/><polygon points="2225.0,132.3 2228.0,134.5 2226.9,138.1 2223.1,138.1 2222.0,134.5" fill="#f7e48a" stroke="#f3d960" stroke-width="2.2" stroke-linejoin="round"/>
<polygon points="2406.0,120.9 2418.2,129.8 2413.5,144.1 2398.5,144.1 2393.8,129.8" fill="#2f2f0c" stroke="#2f2f0c" stroke-width="8.6" stroke-linejoin="round"/><polygon points="2406.0,120.9 2418.2,129.8 2413.5,144.1 2398.5,144.1 2393.8,129.8" fill="#ecc71e" stroke="#ecc71e" stroke-width="3.4" stroke-linejoin="round"/><polygon points="2406.0,130.8 2409.0,133.0 2407.9,136.6 2404.1,136.6 2403.0,133.0" fill="#f7e48a" stroke="#f3d960" stroke-width="2.2" stroke-linejoin="round"/>
<polygon points="2535.0,101.4 2547.2,110.3 2542.5,124.6 2527.5,124.6 2522.8,110.3" fill="#2f2f0c" stroke="#2f2f0c" stroke-width="8.6" stroke-linejoin="round"/><polygon points="2535.0,101.4 2547.2,110.3 2542.5,124.6 2527.5,124.6 2522.8,110.3" fill="#ecc71e" stroke="#ecc71e" stroke-width="3.4" stroke-linejoin="round"/><polygon points="2535.0,111.3 2538.0,113.5 2536.9,117.1 2533.1,117.1 2532.0,113.5" fill="#f7e48a" stroke="#f3d960" stroke-width="2.2" stroke-linejoin="round"/>
<polygon points="2771.2,1.1 2783.4,10.0 2778.7,24.3 2763.7,24.3 2759.0,10.0" fill="#2f2f0c" stroke="#2f2f0c" stroke-width="8.6" stroke-linejoin="round"/><polygon points="2771.2,1.1 2783.4,10.0 2778.7,24.3 2763.7,24.3 2759.0,10.0" fill="#ecc71e" stroke="#ecc71e" stroke-width="3.4" stroke-linejoin="round"/><polygon points="2771.2,11.0 2774.2,13.2 2773.1,16.8 2769.3,16.8 2768.2,13.2" fill="#f7e48a" stroke="#f3d960" stroke-width="2.2" stroke-linejoin="round"/>
<polygon points="1487.0,210.4 1499.2,219.3 1494.5,233.6 1479.5,233.6 1474.8,219.3" fill="#2f2f0c" stroke="#2f2f0c" stroke-width="8.6" stroke-linejoin="round"/><polygon points="1487.0,210.4 1499.2,219.3 1494.5,233.6 1479.5,233.6 1474.8,219.3" fill="#ecc71e" stroke="#ecc71e" stroke-width="3.4" stroke-linejoin="round"/><polygon points="1487.0,220.3 1490.0,222.5 1488.9,226.1 1485.1,226.1 1484.0,222.5" fill="#f7e48a" stroke="#f3d960" stroke-width="2.2" stroke-linejoin="round"/>
<polygon points="1367.6,297.4 1379.8,306.3 1375.1,320.6 1360.1,320.6 1355.4,306.3" fill="#2f2f0c" stroke="#2f2f0c" stroke-width="8.6" stroke-linejoin="round"/><polygon points="1367.6,297.4 1379.8,306.3 1375.1,320.6 1360.1,320.6 1355.4,306.3" fill="#ecc71e" stroke="#ecc71e" stroke-width="3.4" stroke-linejoin="round"/><polygon points="1367.6,307.3 1370.6,309.5 1369.5,313.1 1365.7,313.1 1364.6,309.5" fill="#f7e48a" stroke="#f3d960" stroke-width="2.2" stroke-linejoin="round"/>
<polygon points="1659.5,269.4 1671.7,278.3 1667.0,292.6 1652.0,292.6 1647.3,278.3" fill="#2f2f0c" stroke="#2f2f0c" stroke-width="8.6" stroke-linejoin="round"/><polygon points="1659.5,269.4 1671.7,278.3 1667.0,292.6 1652.0,292.6 1647.3,278.3" fill="#ecc71e" stroke="#ecc71e" stroke-width="3.4" stroke-linejoin="round"/><polygon points="1659.5,279.3 1662.5,281.5 1661.4,285.1 1657.6,285.1 1656.5,281.5" fill="#f7e48a" stroke="#f3d960" stroke-width="2.2" stroke-linejoin="round"/>
<polygon points="1821.3,268.9 1833.5,277.8 1828.8,292.1 1813.8,292.1 1809.1,277.8" fill="#2f2f0c" stroke="#2f2f0c" stroke-width="8.6" stroke-linejoin="round"/><polygon points="1821.3,268.9 1833.5,277.8 1828.8,292.1 1813.8,292.1 1809.1,277.8" fill="#ecc71e" stroke="#ecc71e" stroke-width="3.4" stroke-linejoin="round"/><polygon points="1821.3,278.8 1824.3,281.0 1823.2,284.6 1819.4,284.6 1818.3,281.0" fill="#f7e48a" stroke="#f3d960" stroke-width="2.2" stroke-linejoin="round"/>
<polygon points="1900.0,283.9 1912.2,292.8 1907.5,307.1 1892.5,307.1 1887.8,292.8" fill="#2f2f0c" stroke="#2f2f0c" stroke-width="8.6" stroke-linejoin="round"/><polygon points="1900.0,283.9 1912.2,292.8 1907.5,307.1 1892.5,307.1 1887.8,292.8" fill="#ecc71e" stroke="#ecc71e" stroke-width="3.4" stroke-linejoin="round"/><polygon points="1900.0,293.8 1903.0,296.0 1901.9,299.6 1898.1,299.6 1897.0,296.0" fill="#f7e48a" stroke="#f3d960" stroke-width="2.2" stroke-linejoin="round"/>
<polygon points="2076.8,271.4 2089.0,280.3 2084.3,294.6 2069.3,294.6 2064.6,280.3" fill="#2f2f0c" stroke="#2f2f0c" stroke-width="8.6" stroke-linejoin="round"/><polygon points="2076.8,271.4 2089.0,280.3 2084.3,294.6 2069.3,294.6 2064.6,280.3" fill="#ecc71e" stroke="#ecc71e" stroke-width="3.4" stroke-linejoin="round"/><polygon points="2076.8,281.3 2079.8,283.5 2078.7,287.1 2074.9,287.1 2073.8,283.5" fill="#f7e48a" stroke="#f3d960" stroke-width="2.2" stroke-linejoin="round"/>
<polygon points="2146.5,265.7 2158.7,274.6 2154.0,288.9 2139.0,288.9 2134.3,274.6" fill="#2f2f0c" stroke="#2f2f0c" stroke-width="8.6" stroke-linejoin="round"/><polygon points="2146.5,265.7 2158.7,274.6 2154.0,288.9 2139.0,288.9 2134.3,274.6" fill="#ecc71e" stroke="#ecc71e" stroke-width="3.4" stroke-linejoin="round"/><polygon points="2146.5,275.6 2149.5,277.8 2148.4,281.4 2144.6,281.4 2143.5,277.8" fill="#f7e48a" stroke="#f3d960" stroke-width="2.2" stroke-linejoin="round"/>
<polygon points="2287.0,242.9 2299.2,251.8 2294.5,266.1 2279.5,266.1 2274.8,251.8" fill="#2f2f0c" stroke="#2f2f0c" stroke-width="8.6" stroke-linejoin="round"/><polygon points="2287.0,242.9 2299.2,251.8 2294.5,266.1 2279.5,266.1 2274.8,251.8" fill="#ecc71e" stroke="#ecc71e" stroke-width="3.4" stroke-linejoin="round"/><polygon points="2287.0,252.8 2290.0,255.0 2288.9,258.6 2285.1,258.6 2284.0,255.0" fill="#f7e48a" stroke="#f3d960" stroke-width="2.2" stroke-linejoin="round"/>
<polygon points="2431.0,277.4 2443.2,286.3 2438.5,300.6 2423.5,300.6 2418.8,286.3" fill="#2f2f0c" stroke="#2f2f0c" stroke-width="8.6" stroke-linejoin="round"/><polygon points="2431.0,277.4 2443.2,286.3 2438.5,300.6 2423.5,300.6 2418.8,286.3" fill="#ecc71e" stroke="#ecc71e" stroke-width="3.4" stroke-linejoin="round"/><polygon points="2431.0,287.3 2434.0,289.5 2432.9,293.1 2429.1,293.1 2428.0,289.5" fill="#f7e48a" stroke="#f3d960" stroke-width="2.2" stroke-linejoin="round"/>
<polygon points="1678.6,353.9 1690.8,362.8 1686.1,377.1 1671.1,377.1 1666.4,362.8" fill="#2f2f0c" stroke="#2f2f0c" stroke-width="8.6" stroke-linejoin="round"/><polygon points="1678.6,353.9 1690.8,362.8 1686.1,377.1 1671.1,377.1 1666.4,362.8" fill="#ecc71e" stroke="#ecc71e" stroke-width="3.4" stroke-linejoin="round"/><polygon points="1678.6,363.8 1681.6,366.0 1680.5,369.6 1676.7,369.6 1675.6,366.0" fill="#f7e48a" stroke="#f3d960" stroke-width="2.2" stroke-linejoin="round"/>
<polygon points="1847.3,350.1 1859.5,359.0 1854.8,373.3 1839.8,373.3 1835.1,359.0" fill="#2f2f0c" stroke="#2f2f0c" stroke-width="8.6" stroke-linejoin="round"/><polygon points="1847.3,350.1 1859.5,359.0 1854.8,373.3 1839.8,373.3 1835.1,359.0" fill="#ecc71e" stroke="#ecc71e" stroke-width="3.4" stroke-linejoin="round"/><polygon points="1847.3,360.0 1850.3,362.2 1849.2,365.8 1845.4,365.8 1844.3,362.2" fill="#f7e48a" stroke="#f3d960" stroke-width="2.2" stroke-linejoin="round"/>
<polygon points="1727.4,408.4 1739.6,417.3 1734.9,431.6 1719.9,431.6 1715.2,417.3" fill="#2f2f0c" stroke="#2f2f0c" stroke-width="8.6" stroke-linejoin="round"/><polygon points="1727.4,408.4 1739.6,417.3 1734.9,431.6 1719.9,431.6 1715.2,417.3" fill="#ecc71e" stroke="#ecc71e" stroke-width="3.4" stroke-linejoin="round"/><polygon points="1727.4,418.3 1730.4,420.5 1729.3,424.1 1725.5,424.1 1724.4,420.5" fill="#f7e48a" stroke="#f3d960" stroke-width="2.2" stroke-linejoin="round"/>
<polygon points="1883.5,419.9 1895.7,428.8 1891.0,443.1 1876.0,443.1 1871.3,428.8" fill="#2f2f0c" stroke="#2f2f0c" stroke-width="8.6" stroke-linejoin="round"/><polygon points="1883.5,419.9 1895.7,428.8 1891.0,443.1 1876.0,443.1 1871.3,428.8" fill="#ecc71e" stroke="#ecc71e" stroke-width="3.4" stroke-linejoin="round"/><polygon points="1883.5,429.8 1886.5,432.0 1885.4,435.6 1881.6,435.6 1880.5,432.0" fill="#f7e48a" stroke="#f3d960" stroke-width="2.2" stroke-linejoin="round"/>
<polygon points="1361.3,446.4 1373.5,455.3 1368.8,469.6 1353.8,469.6 1349.1,455.3" fill="#2f2f0c" stroke="#2f2f0c" stroke-width="8.6" stroke-linejoin="round"/><polygon points="1361.3,446.4 1373.5,455.3 1368.8,469.6 1353.8,469.6 1349.1,455.3" fill="#ecc71e" stroke="#ecc71e" stroke-width="3.4" stroke-linejoin="round"/><polygon points="1361.3,456.3 1364.3,458.5 1363.2,462.1 1359.4,462.1 1358.3,458.5" fill="#f7e48a" stroke="#f3d960" stroke-width="2.2" stroke-linejoin="round"/>
<polygon points="1309.3,477.0 1321.5,485.9 1316.8,500.2 1301.8,500.2 1297.1,485.9" fill="#2f2f0c" stroke="#2f2f0c" stroke-width="8.6" stroke-linejoin="round"/><polygon points="1309.3,477.0 1321.5,485.9 1316.8,500.2 1301.8,500.2 1297.1,485.9" fill="#ecc71e" stroke="#ecc71e" stroke-width="3.4" stroke-linejoin="round"/><polygon points="1309.3,486.9 1312.3,489.1 1311.2,492.7 1307.4,492.7 1306.3,489.1" fill="#f7e48a" stroke="#f3d960" stroke-width="2.2" stroke-linejoin="round"/>
<polygon points="1277.5,520.1 1289.7,529.0 1285.0,543.3 1270.0,543.3 1265.3,529.0" fill="#2f2f0c" stroke="#2f2f0c" stroke-width="8.6" stroke-linejoin="round"/><polygon points="1277.5,520.1 1289.7,529.0 1285.0,543.3 1270.0,543.3 1265.3,529.0" fill="#ecc71e" stroke="#ecc71e" stroke-width="3.4" stroke-linejoin="round"/><polygon points="1277.5,530.0 1280.5,532.2 1279.4,535.8 1275.6,535.8 1274.5,532.2" fill="#f7e48a" stroke="#f3d960" stroke-width="2.2" stroke-linejoin="round"/>
<polygon points="1417.0,497.4 1429.2,506.3 1424.5,520.6 1409.5,520.6 1404.8,506.3" fill="#2f2f0c" stroke="#2f2f0c" stroke-width="8.6" stroke-linejoin="round"/><polygon points="1417.0,497.4 1429.2,506.3 1424.5,520.6 1409.5,520.6 1404.8,506.3" fill="#ecc71e" stroke="#ecc71e" stroke-width="3.4" stroke-linejoin="round"/><polygon points="1417.0,507.3 1420.0,509.5 1418.9,513.1 1415.1,513.1 1414.0,509.5" fill="#f7e48a" stroke="#f3d960" stroke-width="2.2" stroke-linejoin="round"/>
<polygon points="1659.5,452.9 1671.7,461.8 1667.0,476.1 1652.0,476.1 1647.3,461.8" fill="#2f2f0c" stroke="#2f2f0c" stroke-width="8.6" stroke-linejoin="round"/><polygon points="1659.5,452.9 1671.7,461.8 1667.0,476.1 1652.0,476.1 1647.3,461.8" fill="#ecc71e" stroke="#ecc71e" stroke-width="3.4" stroke-linejoin="round"/><polygon points="1659.5,462.8 1662.5,465.0 1661.4,468.6 1657.6,468.6 1656.5,465.0" fill="#f7e48a" stroke="#f3d960" stroke-width="2.2" stroke-linejoin="round"/>
<polygon points="1663.3,501.1 1675.5,510.0 1670.8,524.3 1655.8,524.3 1651.1,510.0" fill="#2f2f0c" stroke="#2f2f0c" stroke-width="8.6" stroke-linejoin="round"/><polygon points="1663.3,501.1 1675.5,510.0 1670.8,524.3 1655.8,524.3 1651.1,510.0" fill="#ecc71e" stroke="#ecc71e" stroke-width="3.4" stroke-linejoin="round"/><polygon points="1663.3,511.0 1666.3,513.2 1665.2,516.8 1661.4,516.8 1660.3,513.2" fill="#f7e48a" stroke="#f3d960" stroke-width="2.2" stroke-linejoin="round"/>
<polygon points="1839.0,438.9 1851.2,447.8 1846.5,462.1 1831.5,462.1 1826.8,447.8" fill="#2f2f0c" stroke="#2f2f0c" stroke-width="8.6" stroke-linejoin="round"/><polygon points="1839.0,438.9 1851.2,447.8 1846.5,462.1 1831.5,462.1 1826.8,447.8" fill="#ecc71e" stroke="#ecc71e" stroke-width="3.4" stroke-linejoin="round"/><polygon points="1839.0,448.8 1842.0,451.0 1840.9,454.6 1837.1,454.6 1836.0,451.0" fill="#f7e48a" stroke="#f3d960" stroke-width="2.2" stroke-linejoin="round"/>
<polygon points="1775.6,513.8 1787.8,522.7 1783.1,537.0 1768.1,537.0 1763.4,522.7" fill="#2f2f0c" stroke="#2f2f0c" stroke-width="8.6" stroke-linejoin="round"/><polygon points="1775.6,513.8 1787.8,522.7 1783.1,537.0 1768.1,537.0 1763.4,522.7" fill="#ecc71e" stroke="#ecc71e" stroke-width="3.4" stroke-linejoin="round"/><polygon points="1775.6,523.7 1778.6,525.9 1777.5,529.5 1773.7,529.5 1772.6,525.9" fill="#f7e48a" stroke="#f3d960" stroke-width="2.2" stroke-linejoin="round"/>
<polygon points="1840.4,553.1 1852.6,562.0 1847.9,576.3 1832.9,576.3 1828.2,562.0" fill="#2f2f0c" stroke="#2f2f0c" stroke-width="8.6" stroke-linejoin="round"/><polygon points="1840.4,553.1 1852.6,562.0 1847.9,576.3 1832.9,576.3 1828.2,562.0" fill="#ecc71e" stroke="#ecc71e" stroke-width="3.4" stroke-linejoin="round"/><polygon points="1840.4,563.0 1843.4,565.2 1842.3,568.8 1838.5,568.8 1837.4,565.2" fill="#f7e48a" stroke="#f3d960" stroke-width="2.2" stroke-linejoin="round"/>
<polygon points="1663.3,573.4 1675.5,582.3 1670.8,596.6 1655.8,596.6 1651.1,582.3" fill="#2f2f0c" stroke="#2f2f0c" stroke-width="8.6" stroke-linejoin="round"/><polygon points="1663.3,573.4 1675.5,582.3 1670.8,596.6 1655.8,596.6 1651.1,582.3" fill="#ecc71e" stroke="#ecc71e" stroke-width="3.4" stroke-linejoin="round"/><polygon points="1663.3,583.3 1666.3,585.5 1665.2,589.1 1661.4,589.1 1660.3,585.5" fill="#f7e48a" stroke="#f3d960" stroke-width="2.2" stroke-linejoin="round"/>
<polygon points="1520.6,607.1 1532.8,616.0 1528.1,630.3 1513.1,630.3 1508.4,616.0" fill="#2f2f0c" stroke="#2f2f0c" stroke-width="8.6" stroke-linejoin="round"/><polygon points="1520.6,607.1 1532.8,616.0 1528.1,630.3 1513.1,630.3 1508.4,616.0" fill="#ecc71e" stroke="#ecc71e" stroke-width="3.4" stroke-linejoin="round"/><polygon points="1520.6,617.0 1523.6,619.2 1522.5,622.8 1518.7,622.8 1517.6,619.2" fill="#f7e48a" stroke="#f3d960" stroke-width="2.2" stroke-linejoin="round"/>
<polygon points="982.3,603.9 994.5,612.8 989.8,627.1 974.8,627.1 970.1,612.8" fill="#2f2f0c" stroke="#2f2f0c" stroke-width="8.6" stroke-linejoin="round"/><polygon points="982.3,603.9 994.5,612.8 989.8,627.1 974.8,627.1 970.1,612.8" fill="#ecc71e" stroke="#ecc71e" stroke-width="3.4" stroke-linejoin="round"/><polygon points="982.3,613.8 985.3,616.0 984.2,619.6 980.4,619.6 979.3,616.0" fill="#f7e48a" stroke="#f3d960" stroke-width="2.2" stroke-linejoin="round"/>
<polygon points="1035.0,600.7 1047.2,609.6 1042.5,623.9 1027.5,623.9 1022.8,609.6" fill="#2f2f0c" stroke="#2f2f0c" stroke-width="8.6" stroke-linejoin="round"/><polygon points="1035.0,600.7 1047.2,609.6 1042.5,623.9 1027.5,623.9 1022.8,609.6" fill="#ecc71e" stroke="#ecc71e" stroke-width="3.4" stroke-linejoin="round"/><polygon points="1035.0,610.6 1038.0,612.8 1036.9,616.4 1033.1,616.4 1032.0,612.8" fill="#f7e48a" stroke="#f3d960" stroke-width="2.2" stroke-linejoin="round"/>
<polygon points="1245.8,628.0 1258.0,636.9 1253.3,651.2 1238.3,651.2 1233.6,636.9" fill="#2f2f0c" stroke="#2f2f0c" stroke-width="8.6" stroke-linejoin="round"/><polygon points="1245.8,628.0 1258.0,636.9 1253.3,651.2 1238.3,651.2 1233.6,636.9" fill="#ecc71e" stroke="#ecc71e" stroke-width="3.4" stroke-linejoin="round"/><polygon points="1245.8,637.9 1248.8,640.1 1247.7,643.7 1243.9,643.7 1242.8,640.1" fill="#f7e48a" stroke="#f3d960" stroke-width="2.2" stroke-linejoin="round"/>
<polygon points="1351.8,723.2 1364.0,732.1 1359.3,746.4 1344.3,746.4 1339.6,732.1" fill="#2f2f0c" stroke="#2f2f0c" stroke-width="8.6" stroke-linejoin="round"/><polygon points="1351.8,723.2 1364.0,732.1 1359.3,746.4 1344.3,746.4 1339.6,732.1" fill="#ecc71e" stroke="#ecc71e" stroke-width="3.4" stroke-linejoin="round"/><polygon points="1351.8,733.1 1354.8,735.3 1353.7,738.9 1349.9,738.9 1348.8,735.3" fill="#f7e48a" stroke="#f3d960" stroke-width="2.2" stroke-linejoin="round"/>
<polygon points="1155.7,745.4 1167.9,754.3 1163.2,768.6 1148.2,768.6 1143.5,754.3" fill="#2f2f0c" stroke="#2f2f0c" stroke-width="8.6" stroke-linejoin="round"/><polygon points="1155.7,745.4 1167.9,754.3 1163.2,768.6 1148.2,768.6 1143.5,754.3" fill="#ecc71e" stroke="#ecc71e" stroke-width="3.4" stroke-linejoin="round"/><polygon points="1155.7,755.3 1158.7,757.5 1157.6,761.1 1153.8,761.1 1152.7,757.5" fill="#f7e48a" stroke="#f3d960" stroke-width="2.2" stroke-linejoin="round"/>
<polygon points="1250.3,767.6 1262.5,776.5 1257.8,790.8 1242.8,790.8 1238.1,776.5" fill="#2f2f0c" stroke="#2f2f0c" stroke-width="8.6" stroke-linejoin="round"/><polygon points="1250.3,767.6 1262.5,776.5 1257.8,790.8 1242.8,790.8 1238.1,776.5" fill="#ecc71e" stroke="#ecc71e" stroke-width="3.4" stroke-linejoin="round"/><polygon points="1250.3,777.5 1253.3,779.7 1252.2,783.3 1248.4,783.3 1247.3,779.7" fill="#f7e48a" stroke="#f3d960" stroke-width="2.2" stroke-linejoin="round"/>
<polygon points="1377.0,777.1 1389.2,786.0 1384.5,800.3 1369.5,800.3 1364.8,786.0" fill="#2f2f0c" stroke="#2f2f0c" stroke-width="8.6" stroke-linejoin="round"/><polygon points="1377.0,777.1 1389.2,786.0 1384.5,800.3 1369.5,800.3 1364.8,786.0" fill="#ecc71e" stroke="#ecc71e" stroke-width="3.4" stroke-linejoin="round"/><polygon points="1377.0,787.0 1380.0,789.2 1378.9,792.8 1375.1,792.8 1374.0,789.2" fill="#f7e48a" stroke="#f3d960" stroke-width="2.2" stroke-linejoin="round"/>
<polygon points="993.0,845.9 1005.2,854.8 1000.5,869.1 985.5,869.1 980.8,854.8" fill="#2f2f0c" stroke="#2f2f0c" stroke-width="8.6" stroke-linejoin="round"/><polygon points="993.0,845.9 1005.2,854.8 1000.5,869.1 985.5,869.1 980.8,854.8" fill="#ecc71e" stroke="#ecc71e" stroke-width="3.4" stroke-linejoin="round"/><polygon points="993.0,855.8 996.0,858.0 994.9,861.6 991.1,861.6 990.0,858.0" fill="#f7e48a" stroke="#f3d960" stroke-width="2.2" stroke-linejoin="round"/>
<polygon points="1761.0,827.2 1773.2,836.1 1768.5,850.4 1753.5,850.4 1748.8,836.1" fill="#2f2f0c" stroke="#2f2f0c" stroke-width="8.6" stroke-linejoin="round"/><polygon points="1761.0,827.2 1773.2,836.1 1768.5,850.4 1753.5,850.4 1748.8,836.1" fill="#ecc71e" stroke="#ecc71e" stroke-width="3.4" stroke-linejoin="round"/><polygon points="1761.0,837.1 1764.0,839.3 1762.9,842.9 1759.1,842.9 1758.0,839.3" fill="#f7e48a" stroke="#f3d960" stroke-width="2.2" stroke-linejoin="round"/>
<polygon points="1895.0,721.9 1907.2,730.8 1902.5,745.1 1887.5,745.1 1882.8,730.8" fill="#2f2f0c" stroke="#2f2f0c" stroke-width="8.6" stroke-linejoin="round"/><polygon points="1895.0,721.9 1907.2,730.8 1902.5,745.1 1887.5,745.1 1882.8,730.8" fill="#ecc71e" stroke="#ecc71e" stroke-width="3.4" stroke-linejoin="round"/><polygon points="1895.0,731.8 1898.0,734.0 1896.9,737.6 1893.1,737.6 1892.0,734.0" fill="#f7e48a" stroke="#f3d960" stroke-width="2.2" stroke-linejoin="round"/>
<polygon points="2065.0,321.4 2077.2,330.3 2072.5,344.6 2057.5,344.6 2052.8,330.3" fill="#2f2f0c" stroke="#2f2f0c" stroke-width="8.6" stroke-linejoin="round"/><polygon points="2065.0,321.4 2077.2,330.3 2072.5,344.6 2057.5,344.6 2052.8,330.3" fill="#ecc71e" stroke="#ecc71e" stroke-width="3.4" stroke-linejoin="round"/><polygon points="2065.0,331.3 2068.0,333.5 2066.9,337.1 2063.1,337.1 2062.0,333.5" fill="#f7e48a" stroke="#f3d960" stroke-width="2.2" stroke-linejoin="round"/>
<polygon points="2147.5,355.2 2159.7,364.1 2155.0,378.4 2140.0,378.4 2135.3,364.1" fill="#2f2f0c" stroke="#2f2f0c" stroke-width="8.6" stroke-linejoin="round"/><polygon points="2147.5,355.2 2159.7,364.1 2155.0,378.4 2140.0,378.4 2135.3,364.1" fill="#ecc71e" stroke="#ecc71e" stroke-width="3.4" stroke-linejoin="round"/><polygon points="2147.5,365.1 2150.5,367.3 2149.4,370.9 2145.6,370.9 2144.5,367.3" fill="#f7e48a" stroke="#f3d960" stroke-width="2.2" stroke-linejoin="round"/>
<polygon points="2488.8,336.1 2501.0,345.0 2496.3,359.3 2481.3,359.3 2476.6,345.0" fill="#2f2f0c" stroke="#2f2f0c" stroke-width="8.6" stroke-linejoin="round"/><polygon points="2488.8,336.1 2501.0,345.0 2496.3,359.3 2481.3,359.3 2476.6,345.0" fill="#ecc71e" stroke="#ecc71e" stroke-width="3.4" stroke-linejoin="round"/><polygon points="2488.8,346.0 2491.8,348.2 2490.7,351.8 2486.9,351.8 2485.8,348.2" fill="#f7e48a" stroke="#f3d960" stroke-width="2.2" stroke-linejoin="round"/>
<polygon points="1971.7,378.6 1983.9,387.5 1979.2,401.8 1964.2,401.8 1959.5,387.5" fill="#2f2f0c" stroke="#2f2f0c" stroke-width="8.6" stroke-linejoin="round"/><polygon points="1971.7,378.6 1983.9,387.5 1979.2,401.8 1964.2,401.8 1959.5,387.5" fill="#ecc71e" stroke="#ecc71e" stroke-width="3.4" stroke-linejoin="round"/><polygon points="1971.7,388.5 1974.7,390.7 1973.6,394.3 1969.8,394.3 1968.7,390.7" fill="#f7e48a" stroke="#f3d960" stroke-width="2.2" stroke-linejoin="round"/>
<polygon points="2084.0,375.4 2096.2,384.3 2091.5,398.6 2076.5,398.6 2071.8,384.3" fill="#2f2f0c" stroke="#2f2f0c" stroke-width="8.6" stroke-linejoin="round"/><polygon points="2084.0,375.4 2096.2,384.3 2091.5,398.6 2076.5,398.6 2071.8,384.3" fill="#ecc71e" stroke="#ecc71e" stroke-width="3.4" stroke-linejoin="round"/><polygon points="2084.0,385.3 2087.0,387.5 2085.9,391.1 2082.1,391.1 2081.0,387.5" fill="#f7e48a" stroke="#f3d960" stroke-width="2.2" stroke-linejoin="round"/>
<polygon points="2337.8,367.2 2350.0,376.1 2345.3,390.4 2330.3,390.4 2325.6,376.1" fill="#2f2f0c" stroke="#2f2f0c" stroke-width="8.6" stroke-linejoin="round"/><polygon points="2337.8,367.2 2350.0,376.1 2345.3,390.4 2330.3,390.4 2325.6,376.1" fill="#ecc71e" stroke="#ecc71e" stroke-width="3.4" stroke-linejoin="round"/><polygon points="2337.8,377.1 2340.8,379.3 2339.7,382.9 2335.9,382.9 2334.8,379.3" fill="#f7e48a" stroke="#f3d960" stroke-width="2.2" stroke-linejoin="round"/>
<polygon points="2572.6,379.9 2584.8,388.8 2580.1,403.1 2565.1,403.1 2560.4,388.8" fill="#2f2f0c" stroke="#2f2f0c" stroke-width="8.6" stroke-linejoin="round"/><polygon points="2572.6,379.9 2584.8,388.8 2580.1,403.1 2565.1,403.1 2560.4,388.8" fill="#ecc71e" stroke="#ecc71e" stroke-width="3.4" stroke-linejoin="round"/><polygon points="2572.6,389.8 2575.6,392.0 2574.5,395.6 2570.7,395.6 2569.6,392.0" fill="#f7e48a" stroke="#f3d960" stroke-width="2.2" stroke-linejoin="round"/>
<polygon points="2273.0,402.1 2285.2,411.0 2280.5,425.3 2265.5,425.3 2260.8,411.0" fill="#2f2f0c" stroke="#2f2f0c" stroke-width="8.6" stroke-linejoin="round"/><polygon points="2273.0,402.1 2285.2,411.0 2280.5,425.3 2265.5,425.3 2260.8,411.0" fill="#ecc71e" stroke="#ecc71e" stroke-width="3.4" stroke-linejoin="round"/><polygon points="2273.0,412.0 2276.0,414.2 2274.9,417.8 2271.1,417.8 2270.0,414.2" fill="#f7e48a" stroke="#f3d960" stroke-width="2.2" stroke-linejoin="round"/>
<polygon points="2085.3,423.0 2097.5,431.9 2092.8,446.2 2077.8,446.2 2073.1,431.9" fill="#2f2f0c" stroke="#2f2f0c" stroke-width="8.6" stroke-linejoin="round"/><polygon points="2085.3,423.0 2097.5,431.9 2092.8,446.2 2077.8,446.2 2073.1,431.9" fill="#ecc71e" stroke="#ecc71e" stroke-width="3.4" stroke-linejoin="round"/><polygon points="2085.3,432.9 2088.3,435.1 2087.2,438.7 2083.4,438.7 2082.3,435.1" fill="#f7e48a" stroke="#f3d960" stroke-width="2.2" stroke-linejoin="round"/>
<polygon points="2479.3,418.6 2491.5,427.5 2486.8,441.8 2471.8,441.8 2467.1,427.5" fill="#2f2f0c" stroke="#2f2f0c" stroke-width="8.6" stroke-linejoin="round"/><polygon points="2479.3,418.6 2491.5,427.5 2486.8,441.8 2471.8,441.8 2467.1,427.5" fill="#ecc71e" stroke="#ecc71e" stroke-width="3.4" stroke-linejoin="round"/><polygon points="2479.3,428.5 2482.3,430.7 2481.2,434.3 2477.4,434.3 2476.3,430.7" fill="#f7e48a" stroke="#f3d960" stroke-width="2.2" stroke-linejoin="round"/>
<polygon points="2384.0,453.4 2396.2,462.3 2391.5,476.6 2376.5,476.6 2371.8,462.3" fill="#2f2f0c" stroke="#2f2f0c" stroke-width="8.6" stroke-linejoin="round"/><polygon points="2384.0,453.4 2396.2,462.3 2391.5,476.6 2376.5,476.6 2371.8,462.3" fill="#ecc71e" stroke="#ecc71e" stroke-width="3.4" stroke-linejoin="round"/><polygon points="2384.0,463.3 2387.0,465.5 2385.9,469.1 2382.1,469.1 2381.0,465.5" fill="#f7e48a" stroke="#f3d960" stroke-width="2.2" stroke-linejoin="round"/>
<polygon points="2066.9,472.4 2079.1,481.3 2074.4,495.6 2059.4,495.6 2054.7,481.3" fill="#2f2f0c" stroke="#2f2f0c" stroke-width="8.6" stroke-linejoin="round"/><polygon points="2066.9,472.4 2079.1,481.3 2074.4,495.6 2059.4,495.6 2054.7,481.3" fill="#ecc71e" stroke="#ecc71e" stroke-width="3.4" stroke-linejoin="round"/><polygon points="2066.9,482.3 2069.9,484.5 2068.8,488.1 2065.0,488.1 2063.9,484.5" fill="#f7e48a" stroke="#f3d960" stroke-width="2.2" stroke-linejoin="round"/>
<polygon points="2228.7,477.0 2240.9,485.9 2236.2,500.2 2221.2,500.2 2216.5,485.9" fill="#2f2f0c" stroke="#2f2f0c" stroke-width="8.6" stroke-linejoin="round"/><polygon points="2228.7,477.0 2240.9,485.9 2236.2,500.2 2221.2,500.2 2216.5,485.9" fill="#ecc71e" stroke="#ecc71e" stroke-width="3.4" stroke-linejoin="round"/><polygon points="2228.7,486.9 2231.7,489.1 2230.6,492.7 2226.8,492.7 2225.7,489.1" fill="#f7e48a" stroke="#f3d960" stroke-width="2.2" stroke-linejoin="round"/>
<polygon points="2342.9,513.8 2355.1,522.7 2350.4,537.0 2335.4,537.0 2330.7,522.7" fill="#2f2f0c" stroke="#2f2f0c" stroke-width="8.6" stroke-linejoin="round"/><polygon points="2342.9,513.8 2355.1,522.7 2350.4,537.0 2335.4,537.0 2330.7,522.7" fill="#ecc71e" stroke="#ecc71e" stroke-width="3.4" stroke-linejoin="round"/><polygon points="2342.9,523.7 2345.9,525.9 2344.8,529.5 2341.0,529.5 2339.9,525.9" fill="#f7e48a" stroke="#f3d960" stroke-width="2.2" stroke-linejoin="round"/>
<polygon points="2699.5,561.4 2711.7,570.3 2707.0,584.6 2692.0,584.6 2687.3,570.3" fill="#2f2f0c" stroke="#2f2f0c" stroke-width="8.6" stroke-linejoin="round"/><polygon points="2699.5,561.4 2711.7,570.3 2707.0,584.6 2692.0,584.6 2687.3,570.3" fill="#ecc71e" stroke="#ecc71e" stroke-width="3.4" stroke-linejoin="round"/><polygon points="2699.5,571.3 2702.5,573.5 2701.4,577.1 2697.6,577.1 2696.5,573.5" fill="#f7e48a" stroke="#f3d960" stroke-width="2.2" stroke-linejoin="round"/>
<polygon points="1974.2,589.9 1986.4,598.8 1981.7,613.1 1966.7,613.1 1962.0,598.8" fill="#2f2f0c" stroke="#2f2f0c" stroke-width="8.6" stroke-linejoin="round"/><polygon points="1974.2,589.9 1986.4,598.8 1981.7,613.1 1966.7,613.1 1962.0,598.8" fill="#ecc71e" stroke="#ecc71e" stroke-width="3.4" stroke-linejoin="round"/><polygon points="1974.2,599.8 1977.2,602.0 1976.1,605.6 1972.3,605.6 1971.2,602.0" fill="#f7e48a" stroke="#f3d960" stroke-width="2.2" stroke-linejoin="round"/>
<polygon points="2134.8,584.8 2147.0,593.7 2142.3,608.0 2127.3,608.0 2122.6,593.7" fill="#2f2f0c" stroke="#2f2f0c" stroke-width="8.6" stroke-linejoin="round"/><polygon points="2134.8,584.8 2147.0,593.7 2142.3,608.0 2127.3,608.0 2122.6,593.7" fill="#ecc71e" stroke="#ecc71e" stroke-width="3.4" stroke-linejoin="round"/><polygon points="2134.8,594.7 2137.8,596.9 2136.7,600.5 2132.9,600.5 2131.8,596.9" fill="#f7e48a" stroke="#f3d960" stroke-width="2.2" stroke-linejoin="round"/>
<polygon points="2209.0,572.2 2221.2,581.1 2216.5,595.4 2201.5,595.4 2196.8,581.1" fill="#2f2f0c" stroke="#2f2f0c" stroke-width="8.6" stroke-linejoin="round"/><polygon points="2209.0,572.2 2221.2,581.1 2216.5,595.4 2201.5,595.4 2196.8,581.1" fill="#ecc71e" stroke="#ecc71e" stroke-width="3.4" stroke-linejoin="round"/><polygon points="2209.0,582.1 2212.0,584.3 2210.9,587.9 2207.1,587.9 2206.0,584.3" fill="#f7e48a" stroke="#f3d960" stroke-width="2.2" stroke-linejoin="round"/>
<polygon points="2356.9,582.9 2369.1,591.8 2364.4,606.1 2349.4,606.1 2344.7,591.8" fill="#2f2f0c" stroke="#2f2f0c" stroke-width="8.6" stroke-linejoin="round"/><polygon points="2356.9,582.9 2369.1,591.8 2364.4,606.1 2349.4,606.1 2344.7,591.8" fill="#ecc71e" stroke="#ecc71e" stroke-width="3.4" stroke-linejoin="round"/><polygon points="2356.9,592.8 2359.9,595.0 2358.8,598.6 2355.0,598.6 2353.9,595.0" fill="#f7e48a" stroke="#f3d960" stroke-width="2.2" stroke-linejoin="round"/>
<polygon points="2612.0,629.3 2624.2,638.2 2619.5,652.5 2604.5,652.5 2599.8,638.2" fill="#2f2f0c" stroke="#2f2f0c" stroke-width="8.6" stroke-linejoin="round"/><polygon points="2612.0,629.3 2624.2,638.2 2619.5,652.5 2604.5,652.5 2599.8,638.2" fill="#ecc71e" stroke="#ecc71e" stroke-width="3.4" stroke-linejoin="round"/><polygon points="2612.0,639.2 2615.0,641.4 2613.9,645.0 2610.1,645.0 2609.0,641.4" fill="#f7e48a" stroke="#f3d960" stroke-width="2.2" stroke-linejoin="round"/>
<polygon points="1986.3,656.4 1998.5,665.3 1993.8,679.6 1978.8,679.6 1974.1,665.3" fill="#2f2f0c" stroke="#2f2f0c" stroke-width="8.6" stroke-linejoin="round"/><polygon points="1986.3,656.4 1998.5,665.3 1993.8,679.6 1978.8,679.6 1974.1,665.3" fill="#ecc71e" stroke="#ecc71e" stroke-width="3.4" stroke-linejoin="round"/><polygon points="1986.3,666.3 1989.3,668.5 1988.2,672.1 1984.4,672.1 1983.3,668.5" fill="#f7e48a" stroke="#f3d960" stroke-width="2.2" stroke-linejoin="round"/>
<polygon points="2268.0,686.4 2280.2,695.3 2275.5,709.6 2260.5,709.6 2255.8,695.3" fill="#2f2f0c" stroke="#2f2f0c" stroke-width="8.6" stroke-linejoin="round"/><polygon points="2268.0,686.4 2280.2,695.3 2275.5,709.6 2260.5,709.6 2255.8,695.3" fill="#ecc71e" stroke="#ecc71e" stroke-width="3.4" stroke-linejoin="round"/><polygon points="2268.0,696.3 2271.0,698.5 2269.9,702.1 2266.1,702.1 2265.0,698.5" fill="#f7e48a" stroke="#f3d960" stroke-width="2.2" stroke-linejoin="round"/>
<polygon points="2477.4,671.8 2489.6,680.7 2484.9,695.0 2469.9,695.0 2465.2,680.7" fill="#2f2f0c" stroke="#2f2f0c" stroke-width="8.6" stroke-linejoin="round"/><polygon points="2477.4,671.8 2489.6,680.7 2484.9,695.0 2469.9,695.0 2465.2,680.7" fill="#ecc71e" stroke="#ecc71e" stroke-width="3.4" stroke-linejoin="round"/><polygon points="2477.4,681.7 2480.4,683.9 2479.3,687.5 2475.5,687.5 2474.4,683.9" fill="#f7e48a" stroke="#f3d960" stroke-width="2.2" stroke-linejoin="round"/>
<polygon points="2132.9,722.4 2145.1,731.3 2140.4,745.6 2125.4,745.6 2120.7,731.3" fill="#2f2f0c" stroke="#2f2f0c" stroke-width="8.6" stroke-linejoin="round"/><polygon points="2132.9,722.4 2145.1,731.3 2140.4,745.6 2125.4,745.6 2120.7,731.3" fill="#ecc71e" stroke="#ecc71e" stroke-width="3.4" stroke-linejoin="round"/><polygon points="2132.9,732.3 2135.9,734.5 2134.8,738.1 2131.0,738.1 2129.9,734.5" fill="#f7e48a" stroke="#f3d960" stroke-width="2.2" stroke-linejoin="round"/>
<polygon points="2385.4,739.0 2397.6,747.9 2392.9,762.2 2377.9,762.2 2373.2,747.9" fill="#2f2f0c" stroke="#2f2f0c" stroke-width="8.6" stroke-linejoin="round"/><polygon points="2385.4,739.0 2397.6,747.9 2392.9,762.2 2377.9,762.2 2373.2,747.9" fill="#ecc71e" stroke="#ecc71e" stroke-width="3.4" stroke-linejoin="round"/><polygon points="2385.4,748.9 2388.4,751.1 2387.3,754.7 2383.5,754.7 2382.4,751.1" fill="#f7e48a" stroke="#f3d960" stroke-width="2.2" stroke-linejoin="round"/>
<polygon points="2447.0,770.8 2459.2,779.7 2454.5,794.0 2439.5,794.0 2434.8,779.7" fill="#2f2f0c" stroke="#2f2f0c" stroke-width="8.6" stroke-linejoin="round"/><polygon points="2447.0,770.8 2459.2,779.7 2454.5,794.0 2439.5,794.0 2434.8,779.7" fill="#ecc71e" stroke="#ecc71e" stroke-width="3.4" stroke-linejoin="round"/><polygon points="2447.0,780.7 2450.0,782.9 2448.9,786.5 2445.1,786.5 2444.0,782.9" fill="#f7e48a" stroke="#f3d960" stroke-width="2.2" stroke-linejoin="round"/>
<polygon points="2179.2,831.0 2191.4,839.9 2186.7,854.2 2171.7,854.2 2167.0,839.9" fill="#2f2f0c" stroke="#2f2f0c" stroke-width="8.6" stroke-linejoin="round"/><polygon points="2179.2,831.0 2191.4,839.9 2186.7,854.2 2171.7,854.2 2167.0,839.9" fill="#ecc71e" stroke="#ecc71e" stroke-width="3.4" stroke-linejoin="round"/><polygon points="2179.2,840.9 2182.2,843.1 2181.1,846.7 2177.3,846.7 2176.2,843.1" fill="#f7e48a" stroke="#f3d960" stroke-width="2.2" stroke-linejoin="round"/>
<polygon points="2831.5,824.1 2843.7,833.0 2839.0,847.3 2824.0,847.3 2819.3,833.0" fill="#2f2f0c" stroke="#2f2f0c" stroke-width="8.6" stroke-linejoin="round"/><polygon points="2831.5,824.1 2843.7,833.0 2839.0,847.3 2824.0,847.3 2819.3,833.0" fill="#ecc71e" stroke="#ecc71e" stroke-width="3.4" stroke-linejoin="round"/><polygon points="2831.5,834.0 2834.5,836.2 2833.4,839.8 2829.6,839.8 2828.5,836.2" fill="#f7e48a" stroke="#f3d960" stroke-width="2.2" stroke-linejoin="round"/>
<polygon points="118.7,452.9 130.9,461.8 126.2,476.1 111.2,476.1 106.5,461.8" fill="#2f2f0c" stroke="#2f2f0c" stroke-width="8.6" stroke-linejoin="round"/><polygon points="118.7,452.9 130.9,461.8 126.2,476.1 111.2,476.1 106.5,461.8" fill="#ecc71e" stroke="#ecc71e" stroke-width="3.4" stroke-linejoin="round"/><polygon points="118.7,462.8 121.7,465.0 120.6,468.6 116.8,468.6 115.7,465.0" fill="#f7e48a" stroke="#f3d960" stroke-width="2.2" stroke-linejoin="round"/>
<polygon points="182.7,492.8 194.9,501.7 190.2,516.0 175.2,516.0 170.5,501.7" fill="#2f2f0c" stroke="#2f2f0c" stroke-width="8.6" stroke-linejoin="round"/><polygon points="182.7,492.8 194.9,501.7 190.2,516.0 175.2,516.0 170.5,501.7" fill="#ecc71e" stroke="#ecc71e" stroke-width="3.4" stroke-linejoin="round"/><polygon points="182.7,502.7 185.7,504.9 184.6,508.5 180.8,508.5 179.7,504.9" fill="#f7e48a" stroke="#f3d960" stroke-width="2.2" stroke-linejoin="round"/>
<polygon points="883.2,672.4 895.4,681.3 890.7,695.6 875.7,695.6 871.0,681.3" fill="#2f2f0c" stroke="#2f2f0c" stroke-width="8.6" stroke-linejoin="round"/><polygon points="883.2,672.4 895.4,681.3 890.7,695.6 875.7,695.6 871.0,681.3" fill="#ecc71e" stroke="#ecc71e" stroke-width="3.4" stroke-linejoin="round"/><polygon points="883.2,682.3 886.2,684.5 885.1,688.1 881.3,688.1 880.2,684.5" fill="#f7e48a" stroke="#f3d960" stroke-width="2.2" stroke-linejoin="round"/>
<path d="M1413 489 L1411 501" stroke="#ee92d6" stroke-opacity="0.22" stroke-width="25" stroke-linecap="round" fill="none" filter="url(#b3)"/>
<circle cx="1412.5" cy="489" r="12.5" fill="#ee8ed4" opacity="0.38" filter="url(#b1)"/>
<circle cx="1413" cy="488" r="3.2" fill="#e860e0" opacity="0.8"/>
</svg>
<div class="card" style="left:1589px;top:12px;width:977px;height:97px">
<div class="t" style="left:47px;top:17px;font-size:21px;font-weight:bold;color:#5b6b84;letter-spacing:-0.26px">Last AIS: Sep 25, 17:05Z</div>
<svg width="977" height="97" viewBox="1589 12 977 97" style="position:absolute;left:0;top:0" fill="none" stroke="#1766c2" stroke-width="2.8" stroke-linejoin="miter">
<path d="M1685.6 83.2 L1700 71.5 L1708.6 94 Z" stroke-linejoin="miter" stroke-width="2.8"/>
<path d="M1739 83 H1747.5 M1759.5 83 H1768" stroke-linecap="butt"/><circle cx="1753.5" cy="83" r="6"/>
<path d="M1798.8 89.5 V69.2 H1817" /><rect x="1805" y="74.7" width="18.4" height="22.7" rx="1.5"/>
<path d="M1906 35.5 V85.5" stroke="#8e97a6" stroke-width="1.8"/>
<defs><linearGradient id="lg1" x1="0" x2="1"><stop offset="0" stop-color="#0b62c9"/><stop offset="0.5" stop-color="#6ca6d0"/><stop offset="1" stop-color="#84d4b8"/></linearGradient><linearGradient id="lg2" x1="0" x2="1"><stop offset="0" stop-color="#9cd8a8"/><stop offset="0.3" stop-color="#e6d672"/><stop offset="0.62" stop-color="#e89670"/><stop offset="1" stop-color="#cc4c5c"/></linearGradient><linearGradient id="lg3" x1="0" x2="1"><stop offset="0" stop-color="#b03040"/><stop offset="1" stop-color="#6e1214"/></linearGradient></defs>
<g stroke="none"><rect x="1922" y="60" width="48.5" height="10.6" fill="#0b62c9"/><rect x="1972.5" y="60" width="147.5" height="10.6" fill="url(#lg1)"/><rect x="2122" y="60" width="198" height="10.6" fill="url(#lg2)"/><rect x="2322" y="60" width="47.5" height="10.6" fill="url(#lg3)"/></g>
<rect x="2406.7" y="24.7" width="145" height="72.8" rx="5.5" fill="#fff" stroke="#cfd3d8" stroke-width="1.2"/>
<path d="M2412.2 24.7 H2479.3 V97.5 H2412.2 A5.5 5.5 0 0 1 2406.7 92 V30.2 A5.5 5.5 0 0 1 2412.2 24.7Z" fill="#e9f0fa" stroke="#cfd3d8" stroke-width="1.2"/>
<g stroke="none"><rect x="2426.4" y="44.4" width="32.3" height="32.3" rx="4" fill="#1766c2"/>
<rect x="2429.60" y="53.20" width="3.25" height="3.25" fill="#dfeafa"/><rect x="2436.10" y="53.20" width="3.25" height="3.25" fill="#dfeafa"/><rect x="2442.60" y="53.20" width="3.25" height="3.25" fill="#dfeafa"/><rect x="2449.10" y="53.20" width="3.25" height="3.25" fill="#dfeafa"/><rect x="2432.85" y="56.45" width="3.25" height="3.25" fill="#dfeafa"/><rect x="2439.35" y="56.45" width="3.25" height="3.25" fill="#dfeafa"/><rect x="2445.85" y="56.45" width="3.25" height="3.25" fill="#dfeafa"/><rect x="2452.35" y="56.45" width="3.25" height="3.25" fill="#dfeafa"/><rect x="2429.60" y="59.70" width="3.25" height="3.25" fill="#dfeafa"/><rect x="2436.10" y="59.70" width="3.25" height="3.25" fill="#dfeafa"/><rect x="2442.60" y="59.70" width="3.25" height="3.25" fill="#dfeafa"/><rect x="2449.10" y="59.70" width="3.25" height="3.25" fill="#dfeafa"/><rect x="2432.85" y="62.95" width="3.25" height="3.25" fill="#dfeafa"/><rect x="2439.35" y="62.95" width="3.25" height="3.25" fill="#dfeafa"/><rect x="2445.85" y="62.95" width="3.25" height="3.25" fill="#dfeafa"/><rect x="2452.35" y="62.95" width="3.25" height="3.25" fill="#dfeafa"/>
<rect x="2432.80" y="69.4" width="3.25" height="3.25" fill="#dfeafa"/>
<rect x="2439.30" y="69.4" width="3.25" height="3.25" fill="#dfeafa"/>
<rect x="2445.80" y="69.4" width="3.25" height="3.25" fill="#dfeafa"/>
<rect x="2452.30" y="69.4" width="3.25" height="3.25" fill="#dfeafa"/>
</g>
<rect x="2500" y="46" width="29.3" height="29.3" rx="3" stroke="#757575" stroke-width="3"/>
<path d="M2503.5 69.7 H2509.5 V64 H2514.5 V58.3 H2519.5 V52.8 H2525.5" stroke="#757575" stroke-width="3.2" stroke-linecap="butt"/>
</svg>
<div class="t" style="left:412.5px;top:17px;width:287.5px;text-align:center;font-size:21px;font-weight:bold;color:#5b6b84;letter-spacing:0.45px">Significant Wave Height (M)</div>
<div class="t" style="left:352.5px;top:60.5px;width:60px;text-align:center;font-size:18px;color:#5b6b84">1</div>
<div class="t" style="left:502px;top:60.5px;width:60px;text-align:center;font-size:18px;color:#5b6b84">4</div>
<div class="t" style="left:702px;top:60.5px;width:60px;text-align:center;font-size:18px;color:#5b6b84">8+</div>
</div>
<div class="card" style="left:2580.8px;top:12px;width:96px;height:97px"><div style="position:absolute;left:28px;top:46.8px;width:40.8px;height:4px;background:#0a0a0a"></div></div>
<div class="card" style="left:2679.2px;top:12px;width:96px;height:97px"><div style="position:absolute;left:27.4px;top:46.9px;width:40.8px;height:4px;background:#0a0a0a"></div><div style="position:absolute;left:46px;top:28.4px;width:4px;height:40.8px;background:#0a0a0a"></div></div>
<div class="card" style="left:2789.8px;top:12px;width:96.2px;height:97px"><svg width="97" height="97" viewBox="2789.8 12 97 97" style="position:absolute;left:0;top:0" fill="none" stroke="#0a0a0a" stroke-width="3.3" stroke-linejoin="round"><path d="M2837.2 31.5 L2859 47.3 L2837.2 61.5 L2815.4 47.3 Z"/><path d="M2822 57 L2815.4 61.8 L2837.2 76 L2859 61.8 L2852.4 57"/><path d="M2822 71.3 L2815.4 76.1 L2837.2 90.3 L2859 76.1 L2852.4 71.3"/></svg></div>
<div class="card" style="left:2467.8px;top:127.2px;width:195.2px;height:95.8px"><svg width="196" height="96" viewBox="2467.8 127.2 196 96" style="position:absolute;left:0;top:0"><rect x="2529" y="153.8" width="10.5" height="3.6" fill="#1766c2"/><rect x="2541.5" y="153.8" width="10.5" height="3.6" fill="#1766c2"/><rect x="2572.8" y="153.8" width="10.6" height="3.6" fill="#1766c2"/><rect x="2585.6" y="153.8" width="10.8" height="3.6" fill="#1766c2"/><circle cx="2559.2" cy="147.8" r="3.3" fill="none" stroke="#1766c2" stroke-width="2.3"/><rect x="2600" y="145.6" width="2.2" height="6" fill="#1766c2"/><rect x="2529" y="197.20000000000002" width="10.5" height="3.6" fill="#1766c2"/><rect x="2541.5" y="197.20000000000002" width="10.5" height="3.6" fill="#1766c2"/><rect x="2572.8" y="197.20000000000002" width="10.6" height="3.6" fill="#1766c2"/><rect x="2585.6" y="197.20000000000002" width="10.8" height="3.6" fill="#1766c2"/><circle cx="2559.2" cy="191.20000000000002" r="3.3" fill="none" stroke="#1766c2" stroke-width="2.3"/><rect x="2600" y="189.0" width="2.2" height="6" fill="#1766c2"/></svg></div>
<div class="card" style="left:2676.7px;top:127.2px;width:96.5px;height:95.8px"><svg width="97" height="96" viewBox="2676.7 127.2 97 96" style="position:absolute;left:0;top:0" fill="none" stroke="#0a0a0a" stroke-width="3.4" stroke-linecap="round"><circle cx="2725.2" cy="175.2" r="5" stroke-width="3.5"/><circle cx="2725.2" cy="175.2" r="13.3" stroke-width="3.7"/><path d="M2713 157.4 C2710.6 163 2710.6 170 2712 176" stroke-width="3.7" stroke-linecap="butt"/><path d="M2738.4 174.5 C2739.9 181 2739.6 187 2737.8 192.2" stroke-width="3.7" stroke-linecap="butt"/></svg></div>
<div class="card" style="left:2789.8px;top:127.2px;width:96.2px;height:95.8px"><svg width="97" height="96" viewBox="2789.8 127.2 97 96" style="position:absolute;left:0;top:0" fill="none" stroke="#0a0a0a" stroke-width="3.6" stroke-linejoin="round"><rect x="2820.3" y="165.9" width="35" height="16.8" rx="2.2" stroke-width="3.7"/><path d="M2826.8 166 V174.2 M2833.8 166 V174.2 M2841.3 166 V174.2 M2848.3 166 V174.2" stroke-width="3.4"/></svg></div>
<div class="card" style="left:2783px;top:865px;width:90px;height:54px;box-shadow:none"><svg width="90" height="54" viewBox="0 0 90 54" style="position:absolute;left:0;top:0"><path d="M36.5 22.5 L45 31 L53.5 22.5" fill="none" stroke="#0a0a0a" stroke-width="3.2"/></svg></div>
</div>
<div id="chart">
<div id="chead"><div class="t" style="left:1221px;top:14.5px;width:311px;font-size:23px;font-weight:bold;color:#141414;letter-spacing:0.3px;white-space:nowrap">Significant Wave Height (m)</div><svg width="30" height="30" viewBox="0 0 30 30" style="position:absolute;left:1544px;top:12px"><path d="M7.5 10.5 L15.5 18.5 L23.5 10.5" fill="none" stroke="#141414" stroke-width="3.2"/></svg></div>
<svg width="2900" height="453" viewBox="0 919 2900 453" style="position:absolute;left:0;top:0">
<path d="M209 1020.3H2865.7 M209 1089.2H2865.7 M209 1158.4H2865.7 M209 1229.6H2865.7" stroke="#bcc0ca" stroke-width="1.6" fill="none"/>
<path d="M209 1190.7H2865.7" stroke="#cb6b6b" stroke-width="3.2" stroke-dasharray="7.2 7.3" fill="none"/>
<path d="M101 1299H2865.7" stroke="#b4bac6" stroke-width="2.2" fill="none"/><path d="M2865.7 1299H2900" stroke="#c8ccd2" stroke-width="1" fill="none"/><path d="M2898 1299V1372" stroke="#d4d6d9" stroke-width="1" fill="none"/>
<path d="M269.6 1300V1307.5 M269.6 1362V1371 M709.7 1300V1307.5 M709.7 1362V1371 M1150.4 1300V1307.5 M1150.4 1362V1371 M1590.6 1300V1307.5 M1590.6 1362V1371 M2031 1300V1307.5 M2031 1362V1371 M2471.3 1300V1307.5 M2471.3 1362V1371 M2865.7 1300V1307.5 M2865.7 1362V1371" stroke="#b4bac6" stroke-width="2.6" fill="none"/>
<rect x="488.2" y="1318.9" width="3" height="3.2" fill="#a8a8a8"/>
<rect x="488.2" y="1328.2" width="3" height="3.2" fill="#a8a8a8"/>
<rect x="488.2" y="1337.5" width="3" height="3.2" fill="#a8a8a8"/>
<rect x="488.2" y="1346.8000000000002" width="3" height="3.2" fill="#a8a8a8"/>
<rect x="928.3" y="1318.9" width="3" height="3.2" fill="#a8a8a8"/>
<rect x="928.3" y="1328.2" width="3" height="3.2" fill="#a8a8a8"/>
<rect x="928.3" y="1337.5" width="3" height="3.2" fill="#a8a8a8"/>
<rect x="928.3" y="1346.8000000000002" width="3" height="3.2" fill="#a8a8a8"/>
<rect x="1368.8" y="1318.9" width="3" height="3.2" fill="#a8a8a8"/>
<rect x="1368.8" y="1328.2" width="3" height="3.2" fill="#a8a8a8"/>
<rect x="1368.8" y="1337.5" width="3" height="3.2" fill="#a8a8a8"/>
<rect x="1368.8" y="1346.8000000000002" width="3" height="3.2" fill="#a8a8a8"/>
<rect x="1809.1" y="1318.9" width="3" height="3.2" fill="#a8a8a8"/>
<rect x="1809.1" y="1328.2" width="3" height="3.2" fill="#a8a8a8"/>
<rect x="1809.1" y="1337.5" width="3" height="3.2" fill="#a8a8a8"/>
<rect x="1809.1" y="1346.8000000000002" width="3" height="3.2" fill="#a8a8a8"/>
<rect x="2249.8" y="1318.9" width="3" height="3.2" fill="#a8a8a8"/>
<rect x="2249.8" y="1328.2" width="3" height="3.2" fill="#a8a8a8"/>
<rect x="2249.8" y="1337.5" width="3" height="3.2" fill="#a8a8a8"/>
<rect x="2249.8" y="1346.8000000000002" width="3" height="3.2" fill="#a8a8a8"/>
<rect x="2690.0" y="1318.9" width="3" height="3.2" fill="#a8a8a8"/>
<rect x="2690.0" y="1328.2" width="3" height="3.2" fill="#a8a8a8"/>
<rect x="2690.0" y="1337.5" width="3" height="3.2" fill="#a8a8a8"/>
<rect x="2690.0" y="1346.8000000000002" width="3" height="3.2" fill="#a8a8a8"/>
<path d="M209.5 1267.0 C214.7 1265.1 232.2 1258.9 242.3 1254.9 C252.4 1250.9 263.3 1245.1 272.6 1242.3 C281.9 1239.5 292.3 1237.7 300.4 1237.2 C308.5 1236.7 314.5 1237.7 323.0 1239.2 C331.5 1240.7 340.5 1243.9 353.4 1246.3 C366.3 1248.7 387.7 1251.6 403.8 1254.0 C419.9 1256.4 438.1 1258.9 454.3 1261.0 C470.5 1263.1 488.6 1265.3 504.8 1267.0 C521.0 1268.7 539.1 1270.2 555.3 1271.5 C571.5 1272.8 589.7 1274.0 605.8 1275.0 C621.9 1276.0 640.1 1277.3 656.2 1278.0 C672.3 1278.7 692.2 1279.6 706.7 1279.6 C721.2 1279.6 736.9 1278.9 747.0 1278.0 C757.1 1277.1 761.9 1275.0 770.0 1274.0 C778.1 1273.0 788.3 1272.0 797.6 1271.5 C806.9 1271.0 818.2 1271.1 827.9 1271.0 C837.6 1270.9 845.1 1271.6 858.0 1271.0 C870.9 1270.4 893.8 1268.2 908.6 1267.5 C923.4 1266.8 937.3 1267.1 950.5 1266.5 C963.7 1265.9 978.8 1265.3 990.9 1264.0 C1003.0 1262.7 1014.1 1261.1 1026.2 1258.4 C1038.3 1255.7 1054.5 1251.1 1066.6 1247.3 C1078.7 1243.5 1092.3 1239.0 1102.0 1234.7 C1111.7 1230.4 1119.7 1225.2 1127.0 1220.5 C1134.3 1215.8 1141.7 1210.6 1147.4 1205.4 C1153.1 1200.2 1158.5 1192.6 1162.5 1187.7 C1166.5 1182.8 1169.8 1179.8 1172.6 1175.0 C1175.4 1170.2 1177.6 1164.2 1180.0 1157.4 C1182.4 1150.6 1185.3 1141.1 1187.7 1132.2 C1190.1 1123.3 1192.9 1111.3 1195.3 1102.0 C1197.7 1092.7 1200.9 1080.5 1202.9 1074.2 C1204.9 1067.9 1206.0 1063.9 1208.0 1062.5 C1210.0 1061.1 1212.7 1062.9 1215.5 1065.6 C1218.3 1068.3 1222.4 1073.4 1225.6 1079.2 C1228.8 1085.0 1232.9 1094.3 1235.7 1102.0 C1238.5 1109.7 1240.9 1118.3 1243.3 1127.2 C1245.7 1136.1 1248.4 1149.0 1250.8 1157.4 C1253.2 1165.8 1256.0 1173.9 1258.4 1180.0 C1260.8 1186.1 1263.2 1190.4 1266.0 1195.3 C1268.8 1200.2 1272.4 1206.0 1276.0 1210.4 C1279.6 1214.8 1284.3 1219.5 1288.7 1223.0 C1293.1 1226.5 1299.0 1229.4 1303.8 1232.0 C1308.6 1234.6 1310.9 1236.6 1319.0 1239.2 C1327.1 1241.8 1343.8 1246.3 1354.3 1248.3 C1364.8 1250.3 1373.3 1250.0 1384.6 1251.8 C1395.9 1253.6 1413.7 1257.9 1425.0 1259.4 C1436.3 1260.9 1442.4 1261.1 1455.3 1261.4 C1468.2 1261.7 1492.9 1260.5 1505.8 1261.0 C1518.7 1261.5 1526.3 1263.9 1536.0 1264.5 C1545.7 1265.1 1557.4 1264.7 1566.3 1264.5 C1575.2 1264.3 1583.5 1264.2 1591.6 1263.5 C1599.7 1262.8 1607.9 1261.5 1616.8 1260.0 C1625.7 1258.5 1638.1 1255.9 1647.0 1254.4 C1655.9 1252.9 1664.2 1250.8 1672.3 1250.8 C1680.4 1250.8 1690.3 1252.0 1697.6 1254.4 C1704.9 1256.8 1711.3 1262.5 1717.8 1266.0 C1724.3 1269.5 1732.4 1273.3 1738.0 1276.0 C1743.6 1278.7 1750.6 1281.5 1753.0 1282.6" fill="none" stroke="#7d665f" stroke-width="4.5" stroke-linejoin="round" stroke-linecap="butt"/>
<path d="M209.5 1267.0 C214.7 1265.1 232.2 1258.9 242.3 1254.9 C252.4 1250.9 263.3 1245.1 272.6 1242.3 C281.9 1239.5 292.3 1237.7 300.4 1237.2 C308.5 1236.7 314.5 1237.6 323.0 1239.2 C331.5 1240.8 340.5 1244.6 353.4 1247.3 C366.3 1250.0 387.7 1253.5 403.8 1255.9 C419.9 1258.3 438.1 1260.4 454.3 1262.4 C470.5 1264.4 488.6 1266.9 504.8 1268.5 C521.0 1270.1 539.1 1271.3 555.3 1272.5 C571.5 1273.7 589.7 1275.0 605.8 1276.0 C621.9 1277.0 640.1 1278.3 656.2 1279.0 C672.3 1279.7 692.2 1280.5 706.7 1280.6 C721.2 1280.7 734.9 1280.1 747.0 1279.6 C759.1 1279.1 769.5 1277.9 782.4 1277.6 C795.3 1277.3 815.8 1278.1 827.9 1277.6 C840.0 1277.1 845.1 1275.6 858.0 1274.6 C870.9 1273.6 893.8 1272.2 908.6 1271.6 C923.4 1271.0 937.3 1271.7 950.5 1271.0 C963.7 1270.3 978.8 1269.4 990.9 1267.5 C1003.0 1265.6 1014.1 1262.5 1026.2 1259.4 C1038.3 1256.3 1054.5 1252.1 1066.6 1248.3 C1078.7 1244.5 1091.5 1239.5 1102.0 1235.7 C1112.5 1231.9 1123.3 1227.4 1132.2 1224.6 C1141.1 1221.8 1150.1 1220.0 1157.4 1218.0 C1164.7 1216.0 1170.2 1213.2 1177.6 1212.0 C1185.0 1210.8 1196.8 1212.2 1203.4 1210.4 C1210.0 1208.6 1214.4 1203.6 1219.0 1201.0 C1223.6 1198.4 1227.8 1195.2 1232.0 1194.3 C1236.2 1193.4 1240.5 1194.2 1245.0 1195.3 C1249.5 1196.4 1254.9 1198.4 1260.0 1201.4 C1265.1 1204.4 1270.8 1209.9 1277.0 1214.0 C1283.2 1218.1 1292.1 1223.4 1298.8 1227.0 C1305.5 1230.6 1310.1 1233.5 1319.0 1236.7 C1327.9 1239.9 1343.8 1244.5 1354.3 1247.3 C1364.8 1250.1 1373.3 1252.4 1384.6 1254.4 C1395.9 1256.4 1413.7 1259.0 1425.0 1260.0 C1436.3 1261.0 1446.4 1260.0 1455.3 1260.4 C1464.2 1260.8 1472.4 1262.5 1480.5 1262.4 C1488.6 1262.3 1497.7 1260.2 1505.8 1260.0 C1513.9 1259.8 1523.7 1261.2 1531.0 1261.0 C1538.3 1260.8 1545.6 1259.0 1551.2 1259.0 C1556.8 1259.0 1559.0 1261.6 1566.3 1261.0 C1573.6 1260.4 1586.1 1257.2 1596.6 1255.4 C1607.1 1253.6 1619.9 1251.3 1632.0 1249.8 C1644.1 1248.3 1661.0 1246.4 1672.3 1246.3 C1683.6 1246.2 1693.7 1246.7 1702.6 1249.3 C1711.5 1251.9 1719.8 1258.1 1727.9 1262.4 C1736.0 1266.7 1747.2 1273.0 1753.0 1276.0 C1758.8 1279.0 1762.4 1280.2 1764.2 1281.0" fill="none" stroke="#a40fe6" stroke-width="5.4" stroke-linejoin="round" stroke-linecap="butt"/>
</svg>
<div class="t" style="left:96.6px;top:87.29999999999995px;width:100px;text-align:right;font-size:20px;font-weight:bold;color:#7d8696;letter-spacing:-0.1px">12.9 m</div>
<div class="t" style="left:96.6px;top:156.20000000000005px;width:100px;text-align:right;font-size:20px;font-weight:bold;color:#7d8696;letter-spacing:-0.1px">9.7 m</div>
<div class="t" style="left:96.6px;top:225.4000000000001px;width:100px;text-align:right;font-size:20px;font-weight:bold;color:#7d8696;letter-spacing:-0.1px">6.5 m</div>
<div class="t" style="left:96.6px;top:296.5999999999999px;width:100px;text-align:right;font-size:20px;font-weight:bold;color:#7d8696;letter-spacing:-0.1px">3.2 m</div>
<div class="t" style="left:209.60000000000002px;top:401.5px;width:120px;text-align:center;font-size:21px;font-weight:bold;color:#6b7a92;letter-spacing:0.27px">Sep 27</div>
<div class="t" style="left:649.7px;top:401.5px;width:120px;text-align:center;font-size:21px;font-weight:bold;color:#6b7a92;letter-spacing:0.27px">Sep 29</div>
<div class="t" style="left:1090.4px;top:401.5px;width:120px;text-align:center;font-size:21px;font-weight:bold;color:#6b7a92;letter-spacing:0.27px">Oct 01</div>
<div class="t" style="left:1530.6px;top:401.5px;width:120px;text-align:center;font-size:21px;font-weight:bold;color:#6b7a92;letter-spacing:0.27px">Oct 03</div>
<div class="t" style="left:1971px;top:401.5px;width:120px;text-align:center;font-size:21px;font-weight:bold;color:#6b7a92;letter-spacing:0.27px">Oct 05</div>
<div class="t" style="left:2411.3px;top:401.5px;width:120px;text-align:center;font-size:21px;font-weight:bold;color:#6b7a92;letter-spacing:0.27px">Oct 07</div>
<div class="t" style="left:2806.5px;top:401.5px;width:120px;text-align:center;font-size:21px;font-weight:bold;color:#6b7a92;letter-spacing:0.27px">Oct 08</div>
<div style="position:absolute;left:1157.6px;top:111px;width:5px;height:304px;background:#1766c2"></div>
<div style="position:absolute;left:1144.2px;top:399.2px;width:31.6px;height:31.6px;border-radius:50%;background:#1766c2"></div>
<div style="position:absolute;left:1065px;top:83px;width:190px;height:35.4px;border-radius:18px;background:#1766c2"><div class="t" style="left:0;top:5.5px;width:190px;text-align:center;font-size:21px;font-weight:bold;color:#fff;letter-spacing:0.46px">Oct 01 01:00Z</div></div>
<svg width="30" height="42" viewBox="0 0 30 42" style="position:absolute;left:1181.7px;top:401.5px"><path d="M3 2 L3 29.5 L9.6 23.6 L14.4 35 L19.6 32.8 L14.8 21.8 L23.4 21.4 Z" fill="#0a0a0a" stroke="#ffffff" stroke-width="2.2" stroke-linejoin="round"/></svg>
</div>
<div id="table">
<div style="position:absolute;left:748.6999999999999px;top:0;width:1.2px;height:261px;background:#d4d6d9"></div>
<div style="position:absolute;left:1018.9px;top:0;width:1.2px;height:261px;background:#d4d6d9"></div>
<div style="position:absolute;left:1231.6000000000001px;top:0;width:1.2px;height:261px;background:#d4d6d9"></div>
<div style="position:absolute;left:1608.6000000000001px;top:0;width:1.2px;height:261px;background:#d4d6d9"></div>
<div style="position:absolute;left:1817.6000000000001px;top:0;width:1.2px;height:261px;background:#d4d6d9"></div>
<div style="position:absolute;left:2020.6000000000001px;top:0;width:1.2px;height:261px;background:#d4d6d9"></div>
<div style="position:absolute;left:2333.4px;top:0;width:1.2px;height:261px;background:#d4d6d9"></div>
<div style="position:absolute;left:2651.4px;top:0;width:1.2px;height:261px;background:#d4d6d9"></div>
<div style="position:absolute;left:2869.6px;top:0;width:1.2px;height:261px;background:#d4d6d9"></div>
<div style="position:absolute;left:101px;top:86.19999999999996px;width:2799px;height:1.2px;background:#d8dadd"></div>
<div style="position:absolute;left:101px;top:173.10000000000005px;width:2799px;height:1.2px;background:#d8dadd"></div>
<div style="position:absolute;left:101px;top:-1px;width:2799px;height:1.8px;background:#7e7e7e"></div>
<div class="t" style="left:779.1px;top:32.5px;font-size:20px;font-weight:bold;color:#181818;letter-spacing:-1.2px;white-space:nowrap">ETA</div>
<div class="t" style="left:1049.3px;top:32.5px;font-size:20px;font-weight:bold;color:#181818;letter-spacing:0.28px;white-space:nowrap">DURATION</div>
<div class="t" style="left:1262.4px;top:32.5px;font-size:20px;font-weight:bold;color:#181818;letter-spacing:0.59px;white-space:nowrap">WX IMPACT ON DURATION</div>
<div class="t" style="left:1639.5px;top:32.5px;font-size:20px;font-weight:bold;color:#181818;letter-spacing:0.18px;white-space:nowrap">DISTANCE</div>
<div class="t" style="left:1847.5px;top:32.5px;font-size:20px;font-weight:bold;color:#181818;letter-spacing:0.2px;white-space:nowrap">AVG SOG</div>
<div class="t" style="left:2050.4px;top:32.5px;font-size:20px;font-weight:bold;color:#181818;letter-spacing:0.21px;white-space:nowrap">M/E FUEL REQUIRED</div>
<div class="t" style="left:2364.4px;top:32.5px;font-size:20px;font-weight:bold;color:#181818;letter-spacing:0.29px;white-space:nowrap">WX IMPACT ON FUEL</div>
<div class="t" style="left:2681.4px;top:32.5px;font-size:20px;font-weight:bold;color:#181818;letter-spacing:-0.12px;white-space:nowrap">FUEL COST</div>
<svg width="26" height="26" viewBox="0 0 26 26" style="position:absolute;left:826px;top:30.90000000000009px"><path d="M13 23 V4.5 M4.6 12.2 L13 3.8 L21.4 12.2" fill="none" stroke="#555" stroke-width="2.6"/></svg>
<div style="position:absolute;left:130.9px;top:123.39999999999989px;width:13.8px;height:13.8px;border-radius:50%;background:#8a6b61"></div>
<div class="t" style="left:181.2px;top:114.59999999999991px;font-size:25px;font-weight:bold;color:#181818;letter-spacing:-0.5px;white-space:nowrap">Route B</div>
<div style="position:absolute;left:159px;top:155.0999999999999px;width:430.6px;height:1.3px;background:#7a7a7a"></div>
<div style="position:absolute;left:688px;top:113.39999999999992px;width:8px;height:8px;border-radius:50%;background:#1766c2"></div>
<div style="position:absolute;left:688px;top:126.1999999999999px;width:8px;height:8px;border-radius:50%;background:#1766c2"></div>
<div style="position:absolute;left:688px;top:138.89999999999992px;width:8px;height:8px;border-radius:50%;background:#1766c2"></div>
<div class="t" style="left:689.59px;top:115.29999999999991px;width:300px;text-align:right;font-size:23px;color:#1c1c1c;letter-spacing:0.39px;white-space:nowrap">Oct 03, 17:51Z</div>
<div class="t" style="left:903.5600000000001px;top:115.29999999999991px;width:300px;text-align:right;font-size:23px;color:#1c1c1c;letter-spacing:1.16px;white-space:nowrap">7 d</div>
<div class="t" style="left:1207.4199999999998px;top:115.29999999999991px;width:300px;text-align:right;font-size:23px;color:#1c1c1c;letter-spacing:0.12px;white-space:nowrap">8.87%</div>
<div class="t" style="left:1487.0700000000002px;top:115.29999999999991px;width:300px;text-align:right;font-size:23px;color:#1c1c1c;letter-spacing:-0.33px;white-space:nowrap">1,813 NM</div>
<div class="t" style="left:1692.3400000000001px;top:115.29999999999991px;width:300px;text-align:right;font-size:23px;color:#1c1c1c;letter-spacing:0.94px;white-space:nowrap">10.8 kt</div>
<div class="t" style="left:2004.4400000000003px;top:115.29999999999991px;width:300px;text-align:right;font-size:23px;color:#1c1c1c;letter-spacing:0.14px;white-space:nowrap">314 MT</div>
<div class="t" style="left:2249.4399999999996px;top:115.29999999999991px;width:300px;text-align:right;font-size:23px;color:#1c1c1c;letter-spacing:-0.26px;white-space:nowrap">14.43%</div>
<div class="t" style="left:2540.01px;top:115.29999999999991px;width:300px;text-align:right;font-size:23px;color:#1c1c1c;letter-spacing:0.01px;white-space:nowrap">$139,356</div>
<svg width="40" height="40" viewBox="0 0 40 40" style="position:absolute;left:1538.3px;top:109.89999999999992px"><circle cx="20" cy="20" r="15.6" fill="none" stroke="#141414" stroke-width="3"/><rect x="18.3" y="17.5" width="3.4" height="11.5" fill="#141414"/><rect x="18.3" y="10.8" width="3.4" height="3.6" fill="#141414"/></svg>
<svg width="40" height="40" viewBox="0 0 40 40" style="position:absolute;left:2581.2px;top:109.89999999999992px"><circle cx="20" cy="20" r="15.6" fill="none" stroke="#141414" stroke-width="3"/><rect x="18.3" y="17.5" width="3.4" height="11.5" fill="#141414"/><rect x="18.3" y="10.8" width="3.4" height="3.6" fill="#141414"/></svg>
<div style="position:absolute;left:130.9px;top:210.59999999999994px;width:13.8px;height:13.8px;border-radius:50%;background:#a50bf0"></div>
<div class="t" style="left:181.2px;top:201.79999999999995px;font-size:25px;font-weight:bold;color:#181818;letter-spacing:-0.5px;white-space:nowrap">Route A</div>
<div style="position:absolute;left:159px;top:242.29999999999995px;width:430.6px;height:1.3px;background:#7a7a7a"></div>
<div style="position:absolute;left:688px;top:200.59999999999997px;width:8px;height:8px;border-radius:50%;background:#1766c2"></div>
<div style="position:absolute;left:688px;top:213.39999999999995px;width:8px;height:8px;border-radius:50%;background:#1766c2"></div>
<div style="position:absolute;left:688px;top:226.09999999999997px;width:8px;height:8px;border-radius:50%;background:#1766c2"></div>
<div class="t" style="left:690.07px;top:202.49999999999994px;width:300px;text-align:right;font-size:23px;color:#1c1c1c;letter-spacing:0.87px;white-space:nowrap">Oct 03, 18:57Z</div>
<div class="t" style="left:903.5100000000001px;top:202.49999999999994px;width:300px;text-align:right;font-size:23px;color:#1c1c1c;letter-spacing:1.11px;white-space:nowrap">7 d 2 h</div>
<div class="t" style="left:1205.8999999999999px;top:202.49999999999994px;width:300px;text-align:right;font-size:23px;color:#1c1c1c;letter-spacing:-1.4px;white-space:nowrap">6.17%</div>
<div class="t" style="left:1487.5700000000002px;top:202.49999999999994px;width:300px;text-align:right;font-size:23px;color:#1c1c1c;letter-spacing:0.17px;white-space:nowrap">1,879 NM</div>
<div class="t" style="left:1690.7800000000002px;top:202.49999999999994px;width:300px;text-align:right;font-size:23px;color:#1c1c1c;letter-spacing:-0.62px;white-space:nowrap">11.1 kt</div>
<div class="t" style="left:2005.2400000000002px;top:202.49999999999994px;width:300px;text-align:right;font-size:23px;color:#1c1c1c;letter-spacing:0.94px;white-space:nowrap">307 MT</div>
<div class="t" style="left:2248.8199999999997px;top:202.49999999999994px;width:300px;text-align:right;font-size:23px;color:#1c1c1c;letter-spacing:-0.88px;white-space:nowrap">9.39%</div>
<div class="t" style="left:2540.65px;top:202.49999999999994px;width:300px;text-align:right;font-size:23px;color:#1c1c1c;letter-spacing:0.65px;white-space:nowrap">$103,833</div>
<svg width="40" height="40" viewBox="0 0 40 40" style="position:absolute;left:1538.3px;top:197.09999999999997px"><circle cx="20" cy="20" r="15.6" fill="none" stroke="#141414" stroke-width="3"/><rect x="18.3" y="17.5" width="3.4" height="11.5" fill="#141414"/><rect x="18.3" y="10.8" width="3.4" height="3.6" fill="#141414"/></svg>
<svg width="40" height="40" viewBox="0 0 40 40" style="position:absolute;left:2581.2px;top:197.09999999999997px"><circle cx="20" cy="20" r="15.6" fill="none" stroke="#141414" stroke-width="3"/><rect x="18.3" y="17.5" width="3.4" height="11.5" fill="#141414"/><rect x="18.3" y="10.8" width="3.4" height="3.6" fill="#141414"/></svg>
<div style="position:absolute;left:985px;top:172px;width:1060px;height:88px;background:linear-gradient(to top, rgba(0,0,0,0.125), rgba(0,0,0,0.04) 55%, rgba(0,0,0,0));-webkit-mask-image:linear-gradient(to right, transparent, #000 9%, #000 91%, transparent);mask-image:linear-gradient(to right, transparent, #000 9%, #000 91%, transparent)"></div>
<div style="position:absolute;left:2897.5px;top:0;width:1px;height:261px;background:#d4d6d9"></div>
<div style="position:absolute;left:0;top:258.7px;width:2900px;height:2px;background:#5a5a5a"></div>
</div>
<div id="side">
<div class="topcell"></div>
<div class="active"></div>
<svg width="101" height="1632" viewBox="0 0 101 1632" style="position:absolute;left:0;top:0" fill="none" stroke="#0a0a0a" stroke-width="3" stroke-linecap="round" stroke-linejoin="round">
<circle cx="50.3" cy="48.3" r="28.3" stroke-width="4"/>
<path d="M50.3 48.3 L76 38" stroke-width="2.5" stroke-linecap="butt"/>
<circle cx="50.3" cy="48.3" r="2.1" stroke-width="1.7" fill="#eef1f3"/>
<g stroke-width="2.6" stroke-linecap="butt">
<path d="M43.86 45.56 A7 7 0 0 1 56.8 45.69"/>
<path d="M36.95 42.63 A14.5 14.5 0 0 1 63.75 42.89" stroke-dasharray="2.5 9.9 30"/>
<path d="M30.33 39.82 A21.7 21.7 0 0 1 70.43 40.21" stroke-dasharray="19.7 9.5 6.8 4.5 10.7"/>
</g>
<circle cx="49.3" cy="26.9" r="2.6" fill="#0a0a0a" stroke="none"/><circle cx="43.1" cy="35.5" r="2.6" fill="#0a0a0a" stroke="none"/><circle cx="61" cy="33" r="2.8" fill="#0a0a0a" stroke="none"/>
<g stroke-width="3.1" stroke-linejoin="miter" stroke-linecap="butt">
<path d="M41.5 133 V126.8 H48.2 V133 M54.3 133 V129.6 H60.2 V133"/>
<path d="M33.5 152.5 V134.5 H68.2 V152.5"/>
<path d="M34.8 171.8 Q30.2 163.5 29.8 154.2 L50.3 141.6 L70.8 154.2 Q70.4 163.5 65.8 171.8" stroke-linejoin="round"/>
<path d="M30.6 160.6 L50.3 148.8 L70 160.6" stroke-width="2.9"/>
<path d="M22.4 173.3 H79" stroke-width="3.3" stroke-linecap="round"/>
<path d="M34 172 q2.3 -2.4 4.6 0 q2.3 -2.4 4.6 0 q2.3 -2.4 4.6 0 q2.3 -2.4 4.6 0 q2.3 -2.4 4.6 0 q2.3 -2.4 4.6 0 q2.3 -2.4 4.6 0" stroke-width="1.6" fill="#0a0a0a"/>
</g>
<g stroke-linejoin="miter" stroke-linecap="butt" stroke-width="3"><rect x="30.5" y="231.8" width="15" height="10"/><rect x="53.5" y="231.8" width="17.5" height="18.5"/><rect x="30.5" y="250.5" width="15" height="21"/><rect x="53.5" y="259" width="17.5" height="12.5"/></g>
<path d="M29.6 358 L42.4 344.7 M49.8 345.2 L57.6 351.5 M65 350.5 L71.3 345" />
<circle cx="25.7" cy="362" r="4.6"/>
<circle cx="46.3" cy="340.7" r="4.6"/>
<circle cx="61.2" cy="354.5" r="4.6"/>
<circle cx="75" cy="341.5" r="4.6"/>
<path d="M28.4 433.7 V470.9 H73" stroke-linejoin="miter"/><path d="M35.9 459.3 L44 451 L51 458 L73 436.4" stroke-linejoin="miter"/>
<path d="M20.7 560.8 C28 560.8 29 543.4 35.9 543.4 C43 543.4 44 560.8 51 560.8 C58 560.8 59 543.4 66.2 543.4 C73.5 543.4 74 560.8 80 560.8"/>
<path d="M21.5 552 C27 545 29 529.7 37.2 529.7 C46 529.7 47 552 51 558 C55 566 58 574.3 64.8 574.3 C69 574.3 72 571 74 566" stroke-width="2.6" stroke-dasharray="0.1 5.2"/>
<defs><pattern id="dots" width="3.2" height="3.2" patternUnits="userSpaceOnUse"><rect width="3.2" height="3.2" fill="#fff" stroke="none"/><circle cx="1.6" cy="1.6" r="0.95" fill="#111" stroke="none"/></pattern></defs>
<g stroke-linejoin="miter" stroke-width="3.2"><rect x="25.8" y="630" width="34" height="34" fill="url(#dots)"/><rect x="40.2" y="644.3" width="34" height="34" fill="url(#dots)"/><rect x="40.2" y="644.3" width="19.6" height="19.7" fill="#fff"/></g>
<g stroke-width="2.8"><rect x="45.5" y="729.5" width="9" height="4" stroke-width="2.4"/><circle cx="50" cy="740.5" r="5.6"/><path d="M46 745 L35.3 778 Q35 783 38.5 783 Q40.5 783 41.5 780 L50 752 L58.5 780 Q59.5 783 61.5 783 Q65 783 64.7 778 L54 745"/><circle cx="50" cy="766.5" r="2.6" fill="#0a0a0a"/><path d="M43 766.5 H57" stroke-width="2.2"/></g>
<g stroke="#1766c2" stroke-width="3"><circle cx="30.2" cy="856.6" r="4.3"/><circle cx="70.2" cy="856.6" r="4.3"/><path d="M33.5 850 C38 838 56 830 68.5 846"/><path d="M62 848 L69.6 848.2 L69.8 840.5" stroke-linejoin="miter"/><path d="M38.5 856 C46 854 51 852 53.5 860 C55.5 868 57 874 68 868"/><path d="M62 866.5 L69.5 866.3 L69.8 873.8" stroke-linejoin="miter"/></g>
<circle cx="50.4" cy="1376.2" r="24.2" stroke-width="3.6"/>
<path d="M42.8 1369.5 C42.8 1359 58.5 1359 58.5 1369 C58.5 1375.5 50.6 1375.5 50.6 1382.5" stroke-width="4.3" stroke-linecap="butt"/><rect x="48.2" y="1387.1" width="4.8" height="4.8" fill="#0a0a0a" stroke="none"/>
<path d="M50.40 1453.80 L50.98 1454.22 L51.54 1454.59 L52.09 1454.95 L52.63 1455.31 L53.15 1455.65 L53.67 1456.00 L54.17 1456.33 L54.66 1456.66 L55.14 1456.98 L55.61 1457.28 L56.08 1457.58 L56.55 1457.86 L57.01 1458.13 L57.47 1458.39 L57.93 1458.63 L58.39 1458.86 L58.85 1459.07 L59.32 1459.27 L59.79 1459.46 L60.27 1459.64 L60.76 1459.80 L61.25 1459.95 L61.76 1460.10 L62.27 1460.23 L62.80 1460.36 L63.34 1460.48 L63.90 1460.60 L64.46 1460.72 L65.04 1460.84 L65.63 1460.95 L66.23 1461.07 L66.85 1461.20 L67.48 1461.32 L68.12 1461.46 L68.79 1461.59 L69.49 1461.71 L69.61 1462.41 L69.74 1463.08 L69.88 1463.72 L70.00 1464.35 L70.13 1464.97 L70.25 1465.57 L70.36 1466.16 L70.48 1466.74 L70.60 1467.30 L70.72 1467.86 L70.84 1468.40 L70.97 1468.93 L71.10 1469.44 L71.25 1469.95 L71.40 1470.44 L71.56 1470.93 L71.74 1471.41 L71.93 1471.88 L72.13 1472.35 L72.34 1472.81 L72.57 1473.27 L72.81 1473.73 L73.07 1474.19 L73.34 1474.65 L73.62 1475.12 L73.92 1475.59 L74.22 1476.06 L74.54 1476.54 L74.87 1477.03 L75.20 1477.53 L75.55 1478.05 L75.89 1478.57 L76.25 1479.11 L76.61 1479.66 L76.98 1480.22 L77.40 1480.80 L76.98 1481.38 L76.61 1481.94 L76.25 1482.49 L75.89 1483.03 L75.55 1483.55 L75.20 1484.07 L74.87 1484.57 L74.54 1485.06 L74.22 1485.54 L73.92 1486.01 L73.62 1486.48 L73.34 1486.95 L73.07 1487.41 L72.81 1487.87 L72.57 1488.33 L72.34 1488.79 L72.13 1489.25 L71.93 1489.72 L71.74 1490.19 L71.56 1490.67 L71.40 1491.16 L71.25 1491.65 L71.10 1492.16 L70.97 1492.67 L70.84 1493.20 L70.72 1493.74 L70.60 1494.30 L70.48 1494.86 L70.36 1495.44 L70.25 1496.03 L70.13 1496.63 L70.00 1497.25 L69.88 1497.88 L69.74 1498.52 L69.61 1499.19 L69.49 1499.89 L68.79 1500.01 L68.12 1500.14 L67.48 1500.28 L66.85 1500.40 L66.23 1500.53 L65.63 1500.65 L65.04 1500.76 L64.46 1500.88 L63.90 1501.00 L63.34 1501.12 L62.80 1501.24 L62.27 1501.37 L61.76 1501.50 L61.25 1501.65 L60.76 1501.80 L60.27 1501.96 L59.79 1502.14 L59.32 1502.33 L58.85 1502.53 L58.39 1502.74 L57.93 1502.97 L57.47 1503.21 L57.01 1503.47 L56.55 1503.74 L56.08 1504.02 L55.61 1504.32 L55.14 1504.62 L54.66 1504.94 L54.17 1505.27 L53.67 1505.60 L53.15 1505.95 L52.63 1506.29 L52.09 1506.65 L51.54 1507.01 L50.98 1507.38 L50.40 1507.80 L49.82 1507.38 L49.26 1507.01 L48.71 1506.65 L48.17 1506.29 L47.65 1505.95 L47.13 1505.60 L46.63 1505.27 L46.14 1504.94 L45.66 1504.62 L45.19 1504.32 L44.72 1504.02 L44.25 1503.74 L43.79 1503.47 L43.33 1503.21 L42.87 1502.97 L42.41 1502.74 L41.95 1502.53 L41.48 1502.33 L41.01 1502.14 L40.53 1501.96 L40.04 1501.80 L39.55 1501.65 L39.04 1501.50 L38.53 1501.37 L38.00 1501.24 L37.46 1501.12 L36.90 1501.00 L36.34 1500.88 L35.76 1500.76 L35.17 1500.65 L34.57 1500.53 L33.95 1500.40 L33.32 1500.28 L32.68 1500.14 L32.01 1500.01 L31.31 1499.89 L31.19 1499.19 L31.06 1498.52 L30.92 1497.88 L30.80 1497.25 L30.67 1496.63 L30.55 1496.03 L30.44 1495.44 L30.32 1494.86 L30.20 1494.30 L30.08 1493.74 L29.96 1493.20 L29.83 1492.67 L29.70 1492.16 L29.55 1491.65 L29.40 1491.16 L29.24 1490.67 L29.06 1490.19 L28.87 1489.72 L28.67 1489.25 L28.46 1488.79 L28.23 1488.33 L27.99 1487.87 L27.73 1487.41 L27.46 1486.95 L27.18 1486.48 L26.88 1486.01 L26.58 1485.54 L26.26 1485.06 L25.93 1484.57 L25.60 1484.07 L25.25 1483.55 L24.91 1483.03 L24.55 1482.49 L24.19 1481.94 L23.82 1481.38 L23.40 1480.80 L23.82 1480.22 L24.19 1479.66 L24.55 1479.11 L24.91 1478.57 L25.25 1478.05 L25.60 1477.53 L25.93 1477.03 L26.26 1476.54 L26.58 1476.06 L26.88 1475.59 L27.18 1475.12 L27.46 1474.65 L27.73 1474.19 L27.99 1473.73 L28.23 1473.27 L28.46 1472.81 L28.67 1472.35 L28.87 1471.88 L29.06 1471.41 L29.24 1470.93 L29.40 1470.44 L29.55 1469.95 L29.70 1469.44 L29.83 1468.93 L29.96 1468.40 L30.08 1467.86 L30.20 1467.30 L30.32 1466.74 L30.44 1466.16 L30.55 1465.57 L30.67 1464.97 L30.80 1464.35 L30.92 1463.72 L31.06 1463.08 L31.19 1462.41 L31.31 1461.71 L32.01 1461.59 L32.68 1461.46 L33.32 1461.32 L33.95 1461.20 L34.57 1461.07 L35.17 1460.95 L35.76 1460.84 L36.34 1460.72 L36.90 1460.60 L37.46 1460.48 L38.00 1460.36 L38.53 1460.23 L39.04 1460.10 L39.55 1459.95 L40.04 1459.80 L40.53 1459.64 L41.01 1459.46 L41.48 1459.27 L41.95 1459.07 L42.41 1458.86 L42.87 1458.63 L43.33 1458.39 L43.79 1458.13 L44.25 1457.86 L44.72 1457.58 L45.19 1457.28 L45.66 1456.98 L46.14 1456.66 L46.63 1456.33 L47.13 1456.00 L47.65 1455.65 L48.17 1455.31 L48.71 1454.95 L49.26 1454.59 L49.82 1454.22Z" stroke-width="3"/><circle cx="50.4" cy="1480.8" r="10.6" stroke-width="3"/>
<defs><clipPath id="lg"><circle cx="50.4" cy="1581.5" r="30.6"/></clipPath></defs>
<g clip-path="url(#lg)" stroke="none"><rect x="15" y="1548" width="72" height="68" fill="#22243a"/><rect x="15" y="1577.5" width="72" height="6.2" fill="#fff"/><path d="M14 1598 C30 1596 52 1589 70 1583 L88 1583 L88 1588 C66 1592 40 1602 14 1606 Z" fill="#fff"/><path d="M20 1612 C44 1606 66 1598 88 1594 L88 1601 C70 1604 48 1612 30 1618 Z" fill="#fff"/></g>
</svg>
</div>
<div class="card" style="left:101px;top:12px;width:54px;height:89.5px"><svg width="54" height="90" viewBox="0 0 54 90" style="position:absolute;left:0;top:0"><path d="M21.5 36 L31 45.4 L21.5 54.8" fill="none" stroke="#0a0a0a" stroke-width="3.4"/></svg></div>
<svg width="2900" height="1632" viewBox="0 0 2900 1632" style="position:absolute;left:0;top:0;pointer-events:none"><path d="M0 1632 V1618 A14 14 0 0 0 14 1632 Z" fill="#0a0a0a"/><path d="M2900 1632 V1616 A16 16 0 0 1 2884 1632 Z" fill="#0a0a0a"/></svg>
</body></html>
